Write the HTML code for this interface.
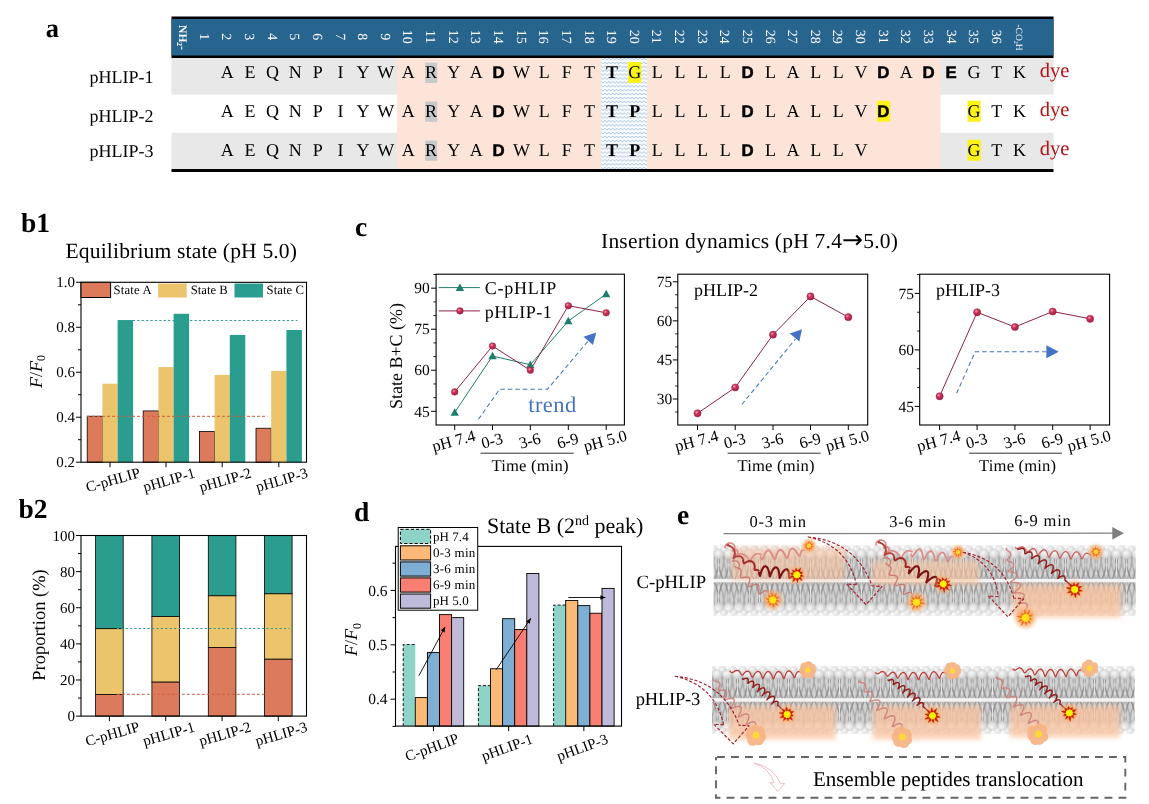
<!DOCTYPE html>
<html lang="en"><head><meta charset="utf-8"><title>pHLIP figure</title>
<style>html,body{margin:0;padding:0;background:#fff}svg{display:block;opacity:.999}text{white-space:pre;text-rendering:geometricPrecision}</style></head><body>
<svg width="1149" height="804" viewBox="0 0 1149 804">
<defs>
<pattern id="wavepat" width="7.8" height="3.9" patternUnits="userSpaceOnUse" x="601" y="57"><rect width="7.8" height="3.9" fill="#f8fbfe"/><path d="M-0.2 1 L1.95 2.9 L3.9 1 L5.85 2.9 L8 1" fill="none" stroke="#7ea8c9" stroke-width="0.65"/></pattern>
<radialGradient id="ballg" cx="0.38" cy="0.35" r="0.7"><stop offset="0" stop-color="#f0a8b8"/><stop offset="0.35" stop-color="#cf3559"/><stop offset="1" stop-color="#9c1c42"/></radialGradient>
<radialGradient id="hg" cx="0.4" cy="0.35" r="0.75"><stop offset="0" stop-color="#f8f8f8"/><stop offset="0.5" stop-color="#dfdfdf"/><stop offset="1" stop-color="#bcbcbc"/></radialGradient>
<radialGradient id="glow" cx="0.5" cy="0.5" r="0.5"><stop offset="0" stop-color="#f79646" stop-opacity="0.95"/><stop offset="0.55" stop-color="#f9a762" stop-opacity="0.75"/><stop offset="1" stop-color="#fbc08a" stop-opacity="0"/></radialGradient>
<radialGradient id="glow2" cx="0.5" cy="0.5" r="0.5"><stop offset="0" stop-color="#ff8a2a" stop-opacity="0.9"/><stop offset="0.6" stop-color="#ffa555" stop-opacity="0.55"/><stop offset="1" stop-color="#ffc090" stop-opacity="0"/></radialGradient>
<filter id="blur2" x="-10%" y="-30%" width="120%" height="160%"><feGaussianBlur stdDeviation="2.8"/></filter>
<pattern id="lipU" width="10.2" height="35" patternUnits="userSpaceOnUse"><rect y="7" width="10.2" height="28" fill="#d1d1d1"/><path d="M-1 8 C-0.5 16 1.5 25 4.4 33.6 M1 8 C0.5 16 -1.5 25 -4.4 33.6 M9.2 8 C9.7 16 11.7 25 14.6 33.6 M11.2 8 C10.7 16 8.7 25 5.8 33.6" fill="none" stroke="#aaaaaa" stroke-width="1.3"/><path d="M4.1 11 C4.4 18 6.2 26 9.2 33.6 M6.1 11 C5.8 18 4 26 1 33.6" fill="none" stroke="#8f8f8f" stroke-width="1.4"/><path d="M5.1 13 C5.1 19 5.1 25 5.1 29" fill="none" stroke="#ececec" stroke-width="0.9"/><circle cx="0" cy="4.6" r="4.7" fill="url(#hg)"/><circle cx="10.2" cy="4.6" r="4.7" fill="url(#hg)"/><circle cx="5.1" cy="8.6" r="4.9" fill="url(#hg)" stroke="#c4c4c4" stroke-width="0.35"/></pattern>
<pattern id="lipL" width="10.2" height="35" patternUnits="userSpaceOnUse"><g transform="translate(0 35) scale(1 -1)"><rect y="7" width="10.2" height="28" fill="#d1d1d1"/><path d="M-1 8 C-0.5 16 1.5 25 4.4 33.6 M1 8 C0.5 16 -1.5 25 -4.4 33.6 M9.2 8 C9.7 16 11.7 25 14.6 33.6 M11.2 8 C10.7 16 8.7 25 5.8 33.6" fill="none" stroke="#aaaaaa" stroke-width="1.3"/><path d="M4.1 11 C4.4 18 6.2 26 9.2 33.6 M6.1 11 C5.8 18 4 26 1 33.6" fill="none" stroke="#8f8f8f" stroke-width="1.4"/><path d="M5.1 13 C5.1 19 5.1 25 5.1 29" fill="none" stroke="#ececec" stroke-width="0.9"/><circle cx="0" cy="4.6" r="4.7" fill="url(#hg)"/><circle cx="10.2" cy="4.6" r="4.7" fill="url(#hg)"/><circle cx="5.1" cy="8.6" r="4.9" fill="url(#hg)" stroke="#c4c4c4" stroke-width="0.35"/></g></pattern>
</defs>
<rect width="1149" height="804" fill="#fff"/>
<g id="panel-a">
<text x="45.8" y="36.8" font-family="'Liberation Serif','DejaVu Serif',serif" font-size="26.5" text-anchor="start" fill="#000" font-weight="bold" font-style="normal" >a</text>
<rect x="171.5" y="57" width="882" height="37.6" fill="#e8e8e8" stroke="none" stroke-width="1" />
<rect x="171.5" y="132.7" width="882" height="36.5" fill="#e8e8e8" stroke="none" stroke-width="1" />
<rect x="397" y="57" width="543.5" height="112.5" fill="#fce4d8" stroke="none" stroke-width="1" />
<rect x="601" y="57" width="46" height="112.5" fill="url(#wavepat)" stroke="none" stroke-width="1" />
<rect x="171.5" y="16.5" width="882" height="41.5" fill="#000" stroke="none" stroke-width="1" />
<rect x="171.5" y="19" width="882" height="36.5" fill="#27648e" stroke="none" stroke-width="1" />
<rect x="171.5" y="169" width="882" height="3" fill="#000" stroke="none" stroke-width="1" />
<text x="0" y="0" transform="translate(199.8 36.8) rotate(90)" font-family="'Liberation Serif','DejaVu Serif',serif" font-size="14" text-anchor="middle" fill="#fff" font-weight="normal" font-style="normal" >1</text>
<text x="0" y="0" transform="translate(222.43 36.8) rotate(90)" font-family="'Liberation Serif','DejaVu Serif',serif" font-size="14" text-anchor="middle" fill="#fff" font-weight="normal" font-style="normal" >2</text>
<text x="0" y="0" transform="translate(245.06 36.8) rotate(90)" font-family="'Liberation Serif','DejaVu Serif',serif" font-size="14" text-anchor="middle" fill="#fff" font-weight="normal" font-style="normal" >3</text>
<text x="0" y="0" transform="translate(267.69 36.8) rotate(90)" font-family="'Liberation Serif','DejaVu Serif',serif" font-size="14" text-anchor="middle" fill="#fff" font-weight="normal" font-style="normal" >4</text>
<text x="0" y="0" transform="translate(290.32 36.8) rotate(90)" font-family="'Liberation Serif','DejaVu Serif',serif" font-size="14" text-anchor="middle" fill="#fff" font-weight="normal" font-style="normal" >5</text>
<text x="0" y="0" transform="translate(312.95 36.8) rotate(90)" font-family="'Liberation Serif','DejaVu Serif',serif" font-size="14" text-anchor="middle" fill="#fff" font-weight="normal" font-style="normal" >6</text>
<text x="0" y="0" transform="translate(335.58 36.8) rotate(90)" font-family="'Liberation Serif','DejaVu Serif',serif" font-size="14" text-anchor="middle" fill="#fff" font-weight="normal" font-style="normal" >7</text>
<text x="0" y="0" transform="translate(358.21 36.8) rotate(90)" font-family="'Liberation Serif','DejaVu Serif',serif" font-size="14" text-anchor="middle" fill="#fff" font-weight="normal" font-style="normal" >8</text>
<text x="0" y="0" transform="translate(380.84 36.8) rotate(90)" font-family="'Liberation Serif','DejaVu Serif',serif" font-size="14" text-anchor="middle" fill="#fff" font-weight="normal" font-style="normal" >9</text>
<text x="0" y="0" transform="translate(403.47 36.8) rotate(90)" font-family="'Liberation Serif','DejaVu Serif',serif" font-size="14" text-anchor="middle" fill="#fff" font-weight="normal" font-style="normal" >10</text>
<text x="0" y="0" transform="translate(426.1 36.8) rotate(90)" font-family="'Liberation Serif','DejaVu Serif',serif" font-size="14" text-anchor="middle" fill="#fff" font-weight="normal" font-style="normal" >11</text>
<text x="0" y="0" transform="translate(448.73 36.8) rotate(90)" font-family="'Liberation Serif','DejaVu Serif',serif" font-size="14" text-anchor="middle" fill="#fff" font-weight="normal" font-style="normal" >12</text>
<text x="0" y="0" transform="translate(471.36 36.8) rotate(90)" font-family="'Liberation Serif','DejaVu Serif',serif" font-size="14" text-anchor="middle" fill="#fff" font-weight="normal" font-style="normal" >13</text>
<text x="0" y="0" transform="translate(493.99 36.8) rotate(90)" font-family="'Liberation Serif','DejaVu Serif',serif" font-size="14" text-anchor="middle" fill="#fff" font-weight="normal" font-style="normal" >14</text>
<text x="0" y="0" transform="translate(516.62 36.8) rotate(90)" font-family="'Liberation Serif','DejaVu Serif',serif" font-size="14" text-anchor="middle" fill="#fff" font-weight="normal" font-style="normal" >15</text>
<text x="0" y="0" transform="translate(539.25 36.8) rotate(90)" font-family="'Liberation Serif','DejaVu Serif',serif" font-size="14" text-anchor="middle" fill="#fff" font-weight="normal" font-style="normal" >16</text>
<text x="0" y="0" transform="translate(561.88 36.8) rotate(90)" font-family="'Liberation Serif','DejaVu Serif',serif" font-size="14" text-anchor="middle" fill="#fff" font-weight="normal" font-style="normal" >17</text>
<text x="0" y="0" transform="translate(584.51 36.8) rotate(90)" font-family="'Liberation Serif','DejaVu Serif',serif" font-size="14" text-anchor="middle" fill="#fff" font-weight="normal" font-style="normal" >18</text>
<text x="0" y="0" transform="translate(607.14 36.8) rotate(90)" font-family="'Liberation Serif','DejaVu Serif',serif" font-size="14" text-anchor="middle" fill="#fff" font-weight="normal" font-style="normal" >19</text>
<text x="0" y="0" transform="translate(629.77 36.8) rotate(90)" font-family="'Liberation Serif','DejaVu Serif',serif" font-size="14" text-anchor="middle" fill="#fff" font-weight="normal" font-style="normal" >20</text>
<text x="0" y="0" transform="translate(652.4 36.8) rotate(90)" font-family="'Liberation Serif','DejaVu Serif',serif" font-size="14" text-anchor="middle" fill="#fff" font-weight="normal" font-style="normal" >21</text>
<text x="0" y="0" transform="translate(675.03 36.8) rotate(90)" font-family="'Liberation Serif','DejaVu Serif',serif" font-size="14" text-anchor="middle" fill="#fff" font-weight="normal" font-style="normal" >22</text>
<text x="0" y="0" transform="translate(697.66 36.8) rotate(90)" font-family="'Liberation Serif','DejaVu Serif',serif" font-size="14" text-anchor="middle" fill="#fff" font-weight="normal" font-style="normal" >23</text>
<text x="0" y="0" transform="translate(720.29 36.8) rotate(90)" font-family="'Liberation Serif','DejaVu Serif',serif" font-size="14" text-anchor="middle" fill="#fff" font-weight="normal" font-style="normal" >24</text>
<text x="0" y="0" transform="translate(742.92 36.8) rotate(90)" font-family="'Liberation Serif','DejaVu Serif',serif" font-size="14" text-anchor="middle" fill="#fff" font-weight="normal" font-style="normal" >25</text>
<text x="0" y="0" transform="translate(765.55 36.8) rotate(90)" font-family="'Liberation Serif','DejaVu Serif',serif" font-size="14" text-anchor="middle" fill="#fff" font-weight="normal" font-style="normal" >26</text>
<text x="0" y="0" transform="translate(788.18 36.8) rotate(90)" font-family="'Liberation Serif','DejaVu Serif',serif" font-size="14" text-anchor="middle" fill="#fff" font-weight="normal" font-style="normal" >27</text>
<text x="0" y="0" transform="translate(810.81 36.8) rotate(90)" font-family="'Liberation Serif','DejaVu Serif',serif" font-size="14" text-anchor="middle" fill="#fff" font-weight="normal" font-style="normal" >28</text>
<text x="0" y="0" transform="translate(833.44 36.8) rotate(90)" font-family="'Liberation Serif','DejaVu Serif',serif" font-size="14" text-anchor="middle" fill="#fff" font-weight="normal" font-style="normal" >29</text>
<text x="0" y="0" transform="translate(856.07 36.8) rotate(90)" font-family="'Liberation Serif','DejaVu Serif',serif" font-size="14" text-anchor="middle" fill="#fff" font-weight="normal" font-style="normal" >30</text>
<text x="0" y="0" transform="translate(878.7 36.8) rotate(90)" font-family="'Liberation Serif','DejaVu Serif',serif" font-size="14" text-anchor="middle" fill="#fff" font-weight="normal" font-style="normal" >31</text>
<text x="0" y="0" transform="translate(901.33 36.8) rotate(90)" font-family="'Liberation Serif','DejaVu Serif',serif" font-size="14" text-anchor="middle" fill="#fff" font-weight="normal" font-style="normal" >32</text>
<text x="0" y="0" transform="translate(923.96 36.8) rotate(90)" font-family="'Liberation Serif','DejaVu Serif',serif" font-size="14" text-anchor="middle" fill="#fff" font-weight="normal" font-style="normal" >33</text>
<text x="0" y="0" transform="translate(946.59 36.8) rotate(90)" font-family="'Liberation Serif','DejaVu Serif',serif" font-size="14" text-anchor="middle" fill="#fff" font-weight="normal" font-style="normal" >34</text>
<text x="0" y="0" transform="translate(969.22 36.8) rotate(90)" font-family="'Liberation Serif','DejaVu Serif',serif" font-size="14" text-anchor="middle" fill="#fff" font-weight="normal" font-style="normal" >35</text>
<text x="0" y="0" transform="translate(991.85 36.8) rotate(90)" font-family="'Liberation Serif','DejaVu Serif',serif" font-size="14" text-anchor="middle" fill="#fff" font-weight="normal" font-style="normal" >36</text>
<text x="0" y="0" transform="translate(178.57 37.5) rotate(90)" font-family="'Liberation Serif','DejaVu Serif',serif" font-size="11.5" text-anchor="middle" fill="#fff" font-weight="bold" font-style="normal" >NH<tspan font-size="7.5" dy="2">2</tspan><tspan dy="-2">-</tspan></text>
<text x="0" y="0" transform="translate(1015.88 37.5) rotate(90)" font-family="'Liberation Serif','DejaVu Serif',serif" font-size="9.5" text-anchor="middle" fill="#fff" font-weight="normal" font-style="normal" >-CO<tspan font-size="6" dy="1.5">2</tspan><tspan dy="-1.5">H</tspan></text>
<text x="89.5" y="83" font-family="'Liberation Serif','DejaVu Serif',serif" font-size="18" text-anchor="start" fill="#000" font-weight="normal" font-style="normal" >pHLIP-1</text>
<text x="89.5" y="121.5" font-family="'Liberation Serif','DejaVu Serif',serif" font-size="18" text-anchor="start" fill="#000" font-weight="normal" font-style="normal" >pHLIP-2</text>
<text x="89.5" y="156.5" font-family="'Liberation Serif','DejaVu Serif',serif" font-size="18" text-anchor="start" fill="#000" font-weight="normal" font-style="normal" >pHLIP-3</text>
<rect x="425.2" y="62.8" width="12" height="20.2" fill="#c9c9c9" stroke="none" stroke-width="1" />
<rect x="628.07" y="61.9" width="13.2" height="21" fill="#fbf315" stroke="none" stroke-width="1" />
<text x="227.33" y="78.2" font-family="'Liberation Serif','DejaVu Serif',serif" font-size="18" text-anchor="middle" fill="#000" font-weight="normal" font-style="normal" >A</text>
<text x="249.96" y="78.2" font-family="'Liberation Serif','DejaVu Serif',serif" font-size="18" text-anchor="middle" fill="#000" font-weight="normal" font-style="normal" >E</text>
<text x="272.59" y="78.2" font-family="'Liberation Serif','DejaVu Serif',serif" font-size="18" text-anchor="middle" fill="#000" font-weight="normal" font-style="normal" >Q</text>
<text x="295.22" y="78.2" font-family="'Liberation Serif','DejaVu Serif',serif" font-size="18" text-anchor="middle" fill="#000" font-weight="normal" font-style="normal" >N</text>
<text x="317.85" y="78.2" font-family="'Liberation Serif','DejaVu Serif',serif" font-size="18" text-anchor="middle" fill="#000" font-weight="normal" font-style="normal" >P</text>
<text x="340.48" y="78.2" font-family="'Liberation Serif','DejaVu Serif',serif" font-size="18" text-anchor="middle" fill="#000" font-weight="normal" font-style="normal" >I</text>
<text x="363.11" y="78.2" font-family="'Liberation Serif','DejaVu Serif',serif" font-size="18" text-anchor="middle" fill="#000" font-weight="normal" font-style="normal" >Y</text>
<text x="385.74" y="78.2" font-family="'Liberation Serif','DejaVu Serif',serif" font-size="18" text-anchor="middle" fill="#000" font-weight="normal" font-style="normal" >W</text>
<text x="408.37" y="78.2" font-family="'Liberation Serif','DejaVu Serif',serif" font-size="18" text-anchor="middle" fill="#000" font-weight="normal" font-style="normal" >A</text>
<text x="431" y="78.2" font-family="'Liberation Serif','DejaVu Serif',serif" font-size="18" text-anchor="middle" fill="#000" font-weight="normal" font-style="normal" >R</text>
<text x="453.63" y="78.2" font-family="'Liberation Serif','DejaVu Serif',serif" font-size="18" text-anchor="middle" fill="#000" font-weight="normal" font-style="normal" >Y</text>
<text x="476.26" y="78.2" font-family="'Liberation Serif','DejaVu Serif',serif" font-size="18" text-anchor="middle" fill="#000" font-weight="normal" font-style="normal" >A</text>
<text x="498.59" y="78.2" font-family="'Liberation Sans','DejaVu Sans',sans-serif" font-size="16.8" text-anchor="middle" fill="#000" font-weight="bold" font-style="normal" stroke="#000" stroke-width="0.5">D</text>
<text x="521.52" y="78.2" font-family="'Liberation Serif','DejaVu Serif',serif" font-size="18" text-anchor="middle" fill="#000" font-weight="normal" font-style="normal" >W</text>
<text x="544.15" y="78.2" font-family="'Liberation Serif','DejaVu Serif',serif" font-size="18" text-anchor="middle" fill="#000" font-weight="normal" font-style="normal" >L</text>
<text x="566.78" y="78.2" font-family="'Liberation Serif','DejaVu Serif',serif" font-size="18" text-anchor="middle" fill="#000" font-weight="normal" font-style="normal" >F</text>
<text x="589.41" y="78.2" font-family="'Liberation Serif','DejaVu Serif',serif" font-size="18" text-anchor="middle" fill="#000" font-weight="normal" font-style="normal" >T</text>
<text x="612.04" y="78.2" font-family="'Liberation Serif','DejaVu Serif',serif" font-size="18" text-anchor="middle" fill="#000" font-weight="bold" font-style="normal" >T</text>
<text x="634.67" y="78.2" font-family="'Liberation Serif','DejaVu Serif',serif" font-size="18" text-anchor="middle" fill="#000" font-weight="normal" font-style="normal" >G</text>
<text x="657.3" y="78.2" font-family="'Liberation Serif','DejaVu Serif',serif" font-size="18" text-anchor="middle" fill="#000" font-weight="normal" font-style="normal" >L</text>
<text x="679.93" y="78.2" font-family="'Liberation Serif','DejaVu Serif',serif" font-size="18" text-anchor="middle" fill="#000" font-weight="normal" font-style="normal" >L</text>
<text x="702.56" y="78.2" font-family="'Liberation Serif','DejaVu Serif',serif" font-size="18" text-anchor="middle" fill="#000" font-weight="normal" font-style="normal" >L</text>
<text x="725.19" y="78.2" font-family="'Liberation Serif','DejaVu Serif',serif" font-size="18" text-anchor="middle" fill="#000" font-weight="normal" font-style="normal" >L</text>
<text x="747.52" y="78.2" font-family="'Liberation Sans','DejaVu Sans',sans-serif" font-size="16.8" text-anchor="middle" fill="#000" font-weight="bold" font-style="normal" stroke="#000" stroke-width="0.5">D</text>
<text x="770.45" y="78.2" font-family="'Liberation Serif','DejaVu Serif',serif" font-size="18" text-anchor="middle" fill="#000" font-weight="normal" font-style="normal" >L</text>
<text x="793.08" y="78.2" font-family="'Liberation Serif','DejaVu Serif',serif" font-size="18" text-anchor="middle" fill="#000" font-weight="normal" font-style="normal" >A</text>
<text x="815.71" y="78.2" font-family="'Liberation Serif','DejaVu Serif',serif" font-size="18" text-anchor="middle" fill="#000" font-weight="normal" font-style="normal" >L</text>
<text x="838.34" y="78.2" font-family="'Liberation Serif','DejaVu Serif',serif" font-size="18" text-anchor="middle" fill="#000" font-weight="normal" font-style="normal" >L</text>
<text x="860.97" y="78.2" font-family="'Liberation Serif','DejaVu Serif',serif" font-size="18" text-anchor="middle" fill="#000" font-weight="normal" font-style="normal" >V</text>
<text x="883.3" y="78.2" font-family="'Liberation Sans','DejaVu Sans',sans-serif" font-size="16.8" text-anchor="middle" fill="#000" font-weight="bold" font-style="normal" stroke="#000" stroke-width="0.5">D</text>
<text x="906.23" y="78.2" font-family="'Liberation Serif','DejaVu Serif',serif" font-size="18" text-anchor="middle" fill="#000" font-weight="normal" font-style="normal" >A</text>
<text x="928.56" y="78.2" font-family="'Liberation Sans','DejaVu Sans',sans-serif" font-size="16.8" text-anchor="middle" fill="#000" font-weight="bold" font-style="normal" stroke="#000" stroke-width="0.5">D</text>
<text x="951.19" y="78.2" font-family="'Liberation Sans','DejaVu Sans',sans-serif" font-size="16.8" text-anchor="middle" fill="#000" font-weight="bold" font-style="normal" stroke="#000" stroke-width="0.5">E</text>
<text x="974.12" y="78.2" font-family="'Liberation Serif','DejaVu Serif',serif" font-size="18" text-anchor="middle" fill="#000" font-weight="normal" font-style="normal" >G</text>
<text x="996.75" y="78.2" font-family="'Liberation Serif','DejaVu Serif',serif" font-size="18" text-anchor="middle" fill="#000" font-weight="normal" font-style="normal" >T</text>
<text x="1019.38" y="78.2" font-family="'Liberation Serif','DejaVu Serif',serif" font-size="18" text-anchor="middle" fill="#000" font-weight="normal" font-style="normal" >K</text>
<text x="1039.8" y="77.3" font-family="'Liberation Serif','DejaVu Serif',serif" font-size="20.5" text-anchor="start" fill="#b31212" font-weight="normal" font-style="normal" >dye</text>
<rect x="425.2" y="101.6" width="12" height="20.2" fill="#c9c9c9" stroke="none" stroke-width="1" />
<rect x="877" y="100.7" width="13.2" height="21" fill="#fbf315" stroke="none" stroke-width="1" />
<rect x="967.52" y="100.7" width="13.2" height="21" fill="#fbf315" stroke="none" stroke-width="1" />
<text x="227.33" y="117" font-family="'Liberation Serif','DejaVu Serif',serif" font-size="18" text-anchor="middle" fill="#000" font-weight="normal" font-style="normal" >A</text>
<text x="249.96" y="117" font-family="'Liberation Serif','DejaVu Serif',serif" font-size="18" text-anchor="middle" fill="#000" font-weight="normal" font-style="normal" >E</text>
<text x="272.59" y="117" font-family="'Liberation Serif','DejaVu Serif',serif" font-size="18" text-anchor="middle" fill="#000" font-weight="normal" font-style="normal" >Q</text>
<text x="295.22" y="117" font-family="'Liberation Serif','DejaVu Serif',serif" font-size="18" text-anchor="middle" fill="#000" font-weight="normal" font-style="normal" >N</text>
<text x="317.85" y="117" font-family="'Liberation Serif','DejaVu Serif',serif" font-size="18" text-anchor="middle" fill="#000" font-weight="normal" font-style="normal" >P</text>
<text x="340.48" y="117" font-family="'Liberation Serif','DejaVu Serif',serif" font-size="18" text-anchor="middle" fill="#000" font-weight="normal" font-style="normal" >I</text>
<text x="363.11" y="117" font-family="'Liberation Serif','DejaVu Serif',serif" font-size="18" text-anchor="middle" fill="#000" font-weight="normal" font-style="normal" >Y</text>
<text x="385.74" y="117" font-family="'Liberation Serif','DejaVu Serif',serif" font-size="18" text-anchor="middle" fill="#000" font-weight="normal" font-style="normal" >W</text>
<text x="408.37" y="117" font-family="'Liberation Serif','DejaVu Serif',serif" font-size="18" text-anchor="middle" fill="#000" font-weight="normal" font-style="normal" >A</text>
<text x="431" y="117" font-family="'Liberation Serif','DejaVu Serif',serif" font-size="18" text-anchor="middle" fill="#000" font-weight="normal" font-style="normal" >R</text>
<text x="453.63" y="117" font-family="'Liberation Serif','DejaVu Serif',serif" font-size="18" text-anchor="middle" fill="#000" font-weight="normal" font-style="normal" >Y</text>
<text x="476.26" y="117" font-family="'Liberation Serif','DejaVu Serif',serif" font-size="18" text-anchor="middle" fill="#000" font-weight="normal" font-style="normal" >A</text>
<text x="498.59" y="117" font-family="'Liberation Sans','DejaVu Sans',sans-serif" font-size="16.8" text-anchor="middle" fill="#000" font-weight="bold" font-style="normal" stroke="#000" stroke-width="0.5">D</text>
<text x="521.52" y="117" font-family="'Liberation Serif','DejaVu Serif',serif" font-size="18" text-anchor="middle" fill="#000" font-weight="normal" font-style="normal" >W</text>
<text x="544.15" y="117" font-family="'Liberation Serif','DejaVu Serif',serif" font-size="18" text-anchor="middle" fill="#000" font-weight="normal" font-style="normal" >L</text>
<text x="566.78" y="117" font-family="'Liberation Serif','DejaVu Serif',serif" font-size="18" text-anchor="middle" fill="#000" font-weight="normal" font-style="normal" >F</text>
<text x="589.41" y="117" font-family="'Liberation Serif','DejaVu Serif',serif" font-size="18" text-anchor="middle" fill="#000" font-weight="normal" font-style="normal" >T</text>
<text x="612.04" y="117" font-family="'Liberation Serif','DejaVu Serif',serif" font-size="18" text-anchor="middle" fill="#000" font-weight="bold" font-style="normal" >T</text>
<text x="634.67" y="117" font-family="'Liberation Serif','DejaVu Serif',serif" font-size="18" text-anchor="middle" fill="#000" font-weight="bold" font-style="normal" >P</text>
<text x="657.3" y="117" font-family="'Liberation Serif','DejaVu Serif',serif" font-size="18" text-anchor="middle" fill="#000" font-weight="normal" font-style="normal" >L</text>
<text x="679.93" y="117" font-family="'Liberation Serif','DejaVu Serif',serif" font-size="18" text-anchor="middle" fill="#000" font-weight="normal" font-style="normal" >L</text>
<text x="702.56" y="117" font-family="'Liberation Serif','DejaVu Serif',serif" font-size="18" text-anchor="middle" fill="#000" font-weight="normal" font-style="normal" >L</text>
<text x="725.19" y="117" font-family="'Liberation Serif','DejaVu Serif',serif" font-size="18" text-anchor="middle" fill="#000" font-weight="normal" font-style="normal" >L</text>
<text x="747.52" y="117" font-family="'Liberation Sans','DejaVu Sans',sans-serif" font-size="16.8" text-anchor="middle" fill="#000" font-weight="bold" font-style="normal" stroke="#000" stroke-width="0.5">D</text>
<text x="770.45" y="117" font-family="'Liberation Serif','DejaVu Serif',serif" font-size="18" text-anchor="middle" fill="#000" font-weight="normal" font-style="normal" >L</text>
<text x="793.08" y="117" font-family="'Liberation Serif','DejaVu Serif',serif" font-size="18" text-anchor="middle" fill="#000" font-weight="normal" font-style="normal" >A</text>
<text x="815.71" y="117" font-family="'Liberation Serif','DejaVu Serif',serif" font-size="18" text-anchor="middle" fill="#000" font-weight="normal" font-style="normal" >L</text>
<text x="838.34" y="117" font-family="'Liberation Serif','DejaVu Serif',serif" font-size="18" text-anchor="middle" fill="#000" font-weight="normal" font-style="normal" >L</text>
<text x="860.97" y="117" font-family="'Liberation Serif','DejaVu Serif',serif" font-size="18" text-anchor="middle" fill="#000" font-weight="normal" font-style="normal" >V</text>
<text x="883.3" y="117" font-family="'Liberation Sans','DejaVu Sans',sans-serif" font-size="16.8" text-anchor="middle" fill="#000" font-weight="bold" font-style="normal" stroke="#000" stroke-width="0.5">D</text>
<text x="974.12" y="117" font-family="'Liberation Serif','DejaVu Serif',serif" font-size="18" text-anchor="middle" fill="#000" font-weight="normal" font-style="normal" >G</text>
<text x="996.75" y="117" font-family="'Liberation Serif','DejaVu Serif',serif" font-size="18" text-anchor="middle" fill="#000" font-weight="normal" font-style="normal" >T</text>
<text x="1019.38" y="117" font-family="'Liberation Serif','DejaVu Serif',serif" font-size="18" text-anchor="middle" fill="#000" font-weight="normal" font-style="normal" >K</text>
<text x="1039.8" y="116.1" font-family="'Liberation Serif','DejaVu Serif',serif" font-size="20.5" text-anchor="start" fill="#b31212" font-weight="normal" font-style="normal" >dye</text>
<rect x="425.2" y="140.6" width="12" height="20.2" fill="#c9c9c9" stroke="none" stroke-width="1" />
<rect x="967.52" y="139.7" width="13.2" height="21" fill="#fbf315" stroke="none" stroke-width="1" />
<text x="227.33" y="156" font-family="'Liberation Serif','DejaVu Serif',serif" font-size="18" text-anchor="middle" fill="#000" font-weight="normal" font-style="normal" >A</text>
<text x="249.96" y="156" font-family="'Liberation Serif','DejaVu Serif',serif" font-size="18" text-anchor="middle" fill="#000" font-weight="normal" font-style="normal" >E</text>
<text x="272.59" y="156" font-family="'Liberation Serif','DejaVu Serif',serif" font-size="18" text-anchor="middle" fill="#000" font-weight="normal" font-style="normal" >Q</text>
<text x="295.22" y="156" font-family="'Liberation Serif','DejaVu Serif',serif" font-size="18" text-anchor="middle" fill="#000" font-weight="normal" font-style="normal" >N</text>
<text x="317.85" y="156" font-family="'Liberation Serif','DejaVu Serif',serif" font-size="18" text-anchor="middle" fill="#000" font-weight="normal" font-style="normal" >P</text>
<text x="340.48" y="156" font-family="'Liberation Serif','DejaVu Serif',serif" font-size="18" text-anchor="middle" fill="#000" font-weight="normal" font-style="normal" >I</text>
<text x="363.11" y="156" font-family="'Liberation Serif','DejaVu Serif',serif" font-size="18" text-anchor="middle" fill="#000" font-weight="normal" font-style="normal" >Y</text>
<text x="385.74" y="156" font-family="'Liberation Serif','DejaVu Serif',serif" font-size="18" text-anchor="middle" fill="#000" font-weight="normal" font-style="normal" >W</text>
<text x="408.37" y="156" font-family="'Liberation Serif','DejaVu Serif',serif" font-size="18" text-anchor="middle" fill="#000" font-weight="normal" font-style="normal" >A</text>
<text x="431" y="156" font-family="'Liberation Serif','DejaVu Serif',serif" font-size="18" text-anchor="middle" fill="#000" font-weight="normal" font-style="normal" >R</text>
<text x="453.63" y="156" font-family="'Liberation Serif','DejaVu Serif',serif" font-size="18" text-anchor="middle" fill="#000" font-weight="normal" font-style="normal" >Y</text>
<text x="476.26" y="156" font-family="'Liberation Serif','DejaVu Serif',serif" font-size="18" text-anchor="middle" fill="#000" font-weight="normal" font-style="normal" >A</text>
<text x="498.59" y="156" font-family="'Liberation Sans','DejaVu Sans',sans-serif" font-size="16.8" text-anchor="middle" fill="#000" font-weight="bold" font-style="normal" stroke="#000" stroke-width="0.5">D</text>
<text x="521.52" y="156" font-family="'Liberation Serif','DejaVu Serif',serif" font-size="18" text-anchor="middle" fill="#000" font-weight="normal" font-style="normal" >W</text>
<text x="544.15" y="156" font-family="'Liberation Serif','DejaVu Serif',serif" font-size="18" text-anchor="middle" fill="#000" font-weight="normal" font-style="normal" >L</text>
<text x="566.78" y="156" font-family="'Liberation Serif','DejaVu Serif',serif" font-size="18" text-anchor="middle" fill="#000" font-weight="normal" font-style="normal" >F</text>
<text x="589.41" y="156" font-family="'Liberation Serif','DejaVu Serif',serif" font-size="18" text-anchor="middle" fill="#000" font-weight="normal" font-style="normal" >T</text>
<text x="612.04" y="156" font-family="'Liberation Serif','DejaVu Serif',serif" font-size="18" text-anchor="middle" fill="#000" font-weight="bold" font-style="normal" >T</text>
<text x="634.67" y="156" font-family="'Liberation Serif','DejaVu Serif',serif" font-size="18" text-anchor="middle" fill="#000" font-weight="bold" font-style="normal" >P</text>
<text x="657.3" y="156" font-family="'Liberation Serif','DejaVu Serif',serif" font-size="18" text-anchor="middle" fill="#000" font-weight="normal" font-style="normal" >L</text>
<text x="679.93" y="156" font-family="'Liberation Serif','DejaVu Serif',serif" font-size="18" text-anchor="middle" fill="#000" font-weight="normal" font-style="normal" >L</text>
<text x="702.56" y="156" font-family="'Liberation Serif','DejaVu Serif',serif" font-size="18" text-anchor="middle" fill="#000" font-weight="normal" font-style="normal" >L</text>
<text x="725.19" y="156" font-family="'Liberation Serif','DejaVu Serif',serif" font-size="18" text-anchor="middle" fill="#000" font-weight="normal" font-style="normal" >L</text>
<text x="747.52" y="156" font-family="'Liberation Sans','DejaVu Sans',sans-serif" font-size="16.8" text-anchor="middle" fill="#000" font-weight="bold" font-style="normal" stroke="#000" stroke-width="0.5">D</text>
<text x="770.45" y="156" font-family="'Liberation Serif','DejaVu Serif',serif" font-size="18" text-anchor="middle" fill="#000" font-weight="normal" font-style="normal" >L</text>
<text x="793.08" y="156" font-family="'Liberation Serif','DejaVu Serif',serif" font-size="18" text-anchor="middle" fill="#000" font-weight="normal" font-style="normal" >A</text>
<text x="815.71" y="156" font-family="'Liberation Serif','DejaVu Serif',serif" font-size="18" text-anchor="middle" fill="#000" font-weight="normal" font-style="normal" >L</text>
<text x="838.34" y="156" font-family="'Liberation Serif','DejaVu Serif',serif" font-size="18" text-anchor="middle" fill="#000" font-weight="normal" font-style="normal" >L</text>
<text x="860.97" y="156" font-family="'Liberation Serif','DejaVu Serif',serif" font-size="18" text-anchor="middle" fill="#000" font-weight="normal" font-style="normal" >V</text>
<text x="974.12" y="156" font-family="'Liberation Serif','DejaVu Serif',serif" font-size="18" text-anchor="middle" fill="#000" font-weight="normal" font-style="normal" >G</text>
<text x="996.75" y="156" font-family="'Liberation Serif','DejaVu Serif',serif" font-size="18" text-anchor="middle" fill="#000" font-weight="normal" font-style="normal" >T</text>
<text x="1019.38" y="156" font-family="'Liberation Serif','DejaVu Serif',serif" font-size="18" text-anchor="middle" fill="#000" font-weight="normal" font-style="normal" >K</text>
<text x="1039.8" y="155.1" font-family="'Liberation Serif','DejaVu Serif',serif" font-size="20.5" text-anchor="start" fill="#b31212" font-weight="normal" font-style="normal" >dye</text>
</g>
<g id="panel-b">
<text x="21" y="232" font-family="'Liberation Serif','DejaVu Serif',serif" font-size="27.5" text-anchor="start" fill="#000" font-weight="bold" font-style="normal" >b1</text>
<text x="65.5" y="257.8" font-family="'Liberation Serif','DejaVu Serif',serif" font-size="21.6" text-anchor="start" fill="#000" font-weight="normal" font-style="normal"  textLength="231.5" lengthAdjust="spacing">Equilibrium state (pH 5.0)</text>
<rect x="87.2" y="416.21" width="15.2" height="45.99" fill="#dc7a5c" stroke="#000" stroke-width="0.8" />
<rect x="102.4" y="383.71" width="15.2" height="78.49" fill="#ecc46c" stroke="none" stroke-width="1" />
<rect x="117.6" y="320.06" width="15.5" height="142.14" fill="#2b9d8f" stroke="none" stroke-width="1" />
<rect x="143.2" y="410.92" width="15.2" height="51.28" fill="#dc7a5c" stroke="#000" stroke-width="0.8" />
<rect x="158.4" y="367.07" width="15.2" height="95.13" fill="#ecc46c" stroke="none" stroke-width="1" />
<rect x="173.6" y="313.77" width="15.5" height="148.43" fill="#2b9d8f" stroke="none" stroke-width="1" />
<rect x="199.4" y="431.39" width="15.2" height="30.81" fill="#dc7a5c" stroke="#000" stroke-width="0.8" />
<rect x="214.6" y="374.94" width="15.2" height="87.26" fill="#ecc46c" stroke="none" stroke-width="1" />
<rect x="229.8" y="334.91" width="15.5" height="127.29" fill="#2b9d8f" stroke="none" stroke-width="1" />
<rect x="256" y="428.24" width="15.2" height="33.96" fill="#dc7a5c" stroke="#000" stroke-width="0.8" />
<rect x="271.2" y="370.89" width="15.2" height="91.31" fill="#ecc46c" stroke="none" stroke-width="1" />
<rect x="286.4" y="329.96" width="15.5" height="132.24" fill="#2b9d8f" stroke="none" stroke-width="1" />
<line x1="132.9" y1="320.5" x2="297.4" y2="320.5" stroke="#2b9d8f" stroke-width="1" stroke-dasharray="2.2 2.2"/>
<line x1="87" y1="416.3" x2="267.4" y2="416.3" stroke="#c8623e" stroke-width="1" stroke-dasharray="3 2"/>
<rect x="81" y="282.3" width="225.5" height="179.9" fill="none" stroke="#000" stroke-width="1.1" />
<line x1="76" y1="462.2" x2="81" y2="462.2" stroke="#000" stroke-width="1" />
<text x="75" y="467.2" font-family="'Liberation Serif','DejaVu Serif',serif" font-size="15" text-anchor="end" fill="#000" font-weight="normal" font-style="normal" >0.2</text>
<line x1="76" y1="417.22" x2="81" y2="417.22" stroke="#000" stroke-width="1" />
<text x="75" y="422.22" font-family="'Liberation Serif','DejaVu Serif',serif" font-size="15" text-anchor="end" fill="#000" font-weight="normal" font-style="normal" >0.4</text>
<line x1="76" y1="372.24" x2="81" y2="372.24" stroke="#000" stroke-width="1" />
<text x="75" y="377.24" font-family="'Liberation Serif','DejaVu Serif',serif" font-size="15" text-anchor="end" fill="#000" font-weight="normal" font-style="normal" >0.6</text>
<line x1="76" y1="327.26" x2="81" y2="327.26" stroke="#000" stroke-width="1" />
<text x="75" y="332.26" font-family="'Liberation Serif','DejaVu Serif',serif" font-size="15" text-anchor="end" fill="#000" font-weight="normal" font-style="normal" >0.8</text>
<line x1="76" y1="282.28" x2="81" y2="282.28" stroke="#000" stroke-width="1" />
<text x="75" y="287.28" font-family="'Liberation Serif','DejaVu Serif',serif" font-size="15" text-anchor="end" fill="#000" font-weight="normal" font-style="normal" >1.0</text>
<line x1="78" y1="439.71" x2="81" y2="439.71" stroke="#000" stroke-width="1" />
<line x1="78" y1="394.73" x2="81" y2="394.73" stroke="#000" stroke-width="1" />
<line x1="78" y1="349.75" x2="81" y2="349.75" stroke="#000" stroke-width="1" />
<line x1="78" y1="304.77" x2="81" y2="304.77" stroke="#000" stroke-width="1" />
<line x1="110" y1="462.2" x2="110" y2="467.2" stroke="#000" stroke-width="1" />
<line x1="166" y1="462.2" x2="166" y2="467.2" stroke="#000" stroke-width="1" />
<line x1="222.2" y1="462.2" x2="222.2" y2="467.2" stroke="#000" stroke-width="1" />
<line x1="278.8" y1="462.2" x2="278.8" y2="467.2" stroke="#000" stroke-width="1" />
<text transform="translate(113 480) rotate(-16)" x="0" y="0" dy="0.32em" font-family="'Liberation Serif','DejaVu Serif',serif" font-size="15" text-anchor="middle" fill="#000">C-pHLIP</text>
<text transform="translate(169 480) rotate(-16)" x="0" y="0" dy="0.32em" font-family="'Liberation Serif','DejaVu Serif',serif" font-size="15" text-anchor="middle" fill="#000">pHLIP-1</text>
<text transform="translate(225.2 480) rotate(-16)" x="0" y="0" dy="0.32em" font-family="'Liberation Serif','DejaVu Serif',serif" font-size="15" text-anchor="middle" fill="#000">pHLIP-2</text>
<text transform="translate(281.8 480) rotate(-16)" x="0" y="0" dy="0.32em" font-family="'Liberation Serif','DejaVu Serif',serif" font-size="15" text-anchor="middle" fill="#000">pHLIP-3</text>
<text transform="translate(41.8 371.5) rotate(-90)" font-family="'Liberation Serif','DejaVu Serif',serif" font-size="18" text-anchor="middle" font-style="italic">F<tspan font-style="normal">/</tspan>F<tspan font-size="12" dy="3.5" font-style="normal">0</tspan></text>
<rect x="81" y="282.3" width="29.6" height="15.2" fill="#dc7a5c" stroke="#000" stroke-width="1" />
<text x="113.6" y="293.8" font-family="'Liberation Serif','DejaVu Serif',serif" font-size="12.7" text-anchor="start" fill="#000" font-weight="normal" font-style="normal"  textLength="38" lengthAdjust="spacing">State A</text>
<rect x="158.1" y="283.5" width="28.6" height="14" fill="#ecc46c" stroke="none" stroke-width="1" />
<text x="190.7" y="293.8" font-family="'Liberation Serif','DejaVu Serif',serif" font-size="12.7" text-anchor="start" fill="#000" font-weight="normal" font-style="normal"  textLength="37" lengthAdjust="spacing">State B</text>
<rect x="234.5" y="283.5" width="28.5" height="14" fill="#2b9d8f" stroke="none" stroke-width="1" />
<text x="266.5" y="293.8" font-family="'Liberation Serif','DejaVu Serif',serif" font-size="12.7" text-anchor="start" fill="#000" font-weight="normal" font-style="normal"  textLength="37.5" lengthAdjust="spacing">State C</text>
<text x="18.5" y="517.5" font-family="'Liberation Serif','DejaVu Serif',serif" font-size="27.5" text-anchor="start" fill="#000" font-weight="bold" font-style="normal" >b2</text>
<rect x="95.6" y="535.5" width="27.6" height="93.19" fill="#2b9d8f" stroke="#000" stroke-width="0.8" />
<rect x="95.6" y="628.69" width="27.6" height="65.74" fill="#ecc46c" stroke="#000" stroke-width="0.8" />
<rect x="95.6" y="694.43" width="27.6" height="21.67" fill="#dc7a5c" stroke="#000" stroke-width="0.8" />
<rect x="151.9" y="535.5" width="27.6" height="81.09" fill="#2b9d8f" stroke="#000" stroke-width="0.8" />
<rect x="151.9" y="616.59" width="27.6" height="65.56" fill="#ecc46c" stroke="#000" stroke-width="0.8" />
<rect x="151.9" y="682.15" width="27.6" height="33.95" fill="#dc7a5c" stroke="#000" stroke-width="0.8" />
<rect x="208.3" y="535.5" width="27.6" height="60.32" fill="#2b9d8f" stroke="#000" stroke-width="0.8" />
<rect x="208.3" y="595.82" width="27.6" height="51.65" fill="#ecc46c" stroke="#000" stroke-width="0.8" />
<rect x="208.3" y="647.47" width="27.6" height="68.63" fill="#dc7a5c" stroke="#000" stroke-width="0.8" />
<rect x="264.5" y="535.5" width="27.6" height="58.33" fill="#2b9d8f" stroke="#000" stroke-width="0.8" />
<rect x="264.5" y="593.83" width="27.6" height="65.38" fill="#ecc46c" stroke="#000" stroke-width="0.8" />
<rect x="264.5" y="659.21" width="27.6" height="56.89" fill="#dc7a5c" stroke="#000" stroke-width="0.8" />
<line x1="116.8" y1="628.5" x2="289.4" y2="628.5" stroke="#2b9d8f" stroke-width="1" stroke-dasharray="2.2 2.2"/>
<line x1="116.8" y1="694.3" x2="264.5" y2="694.3" stroke="#c8623e" stroke-width="1" stroke-dasharray="3 2"/>
<rect x="81" y="535.5" width="225.5" height="180.6" fill="none" stroke="#000" stroke-width="1.1" />
<line x1="76" y1="716.1" x2="81" y2="716.1" stroke="#000" stroke-width="1" />
<text x="75" y="721.1" font-family="'Liberation Serif','DejaVu Serif',serif" font-size="15" text-anchor="end" fill="#000" font-weight="normal" font-style="normal" >0</text>
<line x1="76" y1="679.98" x2="81" y2="679.98" stroke="#000" stroke-width="1" />
<text x="75" y="684.98" font-family="'Liberation Serif','DejaVu Serif',serif" font-size="15" text-anchor="end" fill="#000" font-weight="normal" font-style="normal" >20</text>
<line x1="76" y1="643.86" x2="81" y2="643.86" stroke="#000" stroke-width="1" />
<text x="75" y="648.86" font-family="'Liberation Serif','DejaVu Serif',serif" font-size="15" text-anchor="end" fill="#000" font-weight="normal" font-style="normal" >40</text>
<line x1="76" y1="607.74" x2="81" y2="607.74" stroke="#000" stroke-width="1" />
<text x="75" y="612.74" font-family="'Liberation Serif','DejaVu Serif',serif" font-size="15" text-anchor="end" fill="#000" font-weight="normal" font-style="normal" >60</text>
<line x1="76" y1="571.62" x2="81" y2="571.62" stroke="#000" stroke-width="1" />
<text x="75" y="576.62" font-family="'Liberation Serif','DejaVu Serif',serif" font-size="15" text-anchor="end" fill="#000" font-weight="normal" font-style="normal" >80</text>
<line x1="76" y1="535.5" x2="81" y2="535.5" stroke="#000" stroke-width="1" />
<text x="75" y="540.5" font-family="'Liberation Serif','DejaVu Serif',serif" font-size="15" text-anchor="end" fill="#000" font-weight="normal" font-style="normal" >100</text>
<line x1="78" y1="698.04" x2="81" y2="698.04" stroke="#000" stroke-width="1" />
<line x1="78" y1="661.92" x2="81" y2="661.92" stroke="#000" stroke-width="1" />
<line x1="78" y1="625.8" x2="81" y2="625.8" stroke="#000" stroke-width="1" />
<line x1="78" y1="589.68" x2="81" y2="589.68" stroke="#000" stroke-width="1" />
<line x1="78" y1="553.56" x2="81" y2="553.56" stroke="#000" stroke-width="1" />
<line x1="109.4" y1="716.1" x2="109.4" y2="721.1" stroke="#000" stroke-width="1" />
<line x1="165.7" y1="716.1" x2="165.7" y2="721.1" stroke="#000" stroke-width="1" />
<line x1="222.1" y1="716.1" x2="222.1" y2="721.1" stroke="#000" stroke-width="1" />
<line x1="278.3" y1="716.1" x2="278.3" y2="721.1" stroke="#000" stroke-width="1" />
<text transform="translate(112.4 734) rotate(-16)" x="0" y="0" dy="0.32em" font-family="'Liberation Serif','DejaVu Serif',serif" font-size="15" text-anchor="middle" fill="#000">C-pHLIP</text>
<text transform="translate(168.7 734) rotate(-16)" x="0" y="0" dy="0.32em" font-family="'Liberation Serif','DejaVu Serif',serif" font-size="15" text-anchor="middle" fill="#000">pHLIP-1</text>
<text transform="translate(225.1 734) rotate(-16)" x="0" y="0" dy="0.32em" font-family="'Liberation Serif','DejaVu Serif',serif" font-size="15" text-anchor="middle" fill="#000">pHLIP-2</text>
<text transform="translate(281.3 734) rotate(-16)" x="0" y="0" dy="0.32em" font-family="'Liberation Serif','DejaVu Serif',serif" font-size="15" text-anchor="middle" fill="#000">pHLIP-3</text>
<text transform="translate(45 625) rotate(-90)" font-family="'Liberation Serif','DejaVu Serif',serif" font-size="18.5" text-anchor="middle">Proportion (%)</text>
</g>
<g id="panel-c">
<text x="355" y="236" font-family="'Liberation Serif','DejaVu Serif',serif" font-size="27.5" text-anchor="start" fill="#000" font-weight="bold" font-style="normal" >c</text>
<text x="601" y="248" font-family="'Liberation Serif','DejaVu Serif',serif" font-size="21.5" text-anchor="start" fill="#000" font-weight="normal" font-style="normal"  textLength="297" lengthAdjust="spacing">Insertion dynamics (pH 7.4<tspan font-family="'DejaVu Sans',sans-serif" font-size="25">→</tspan>5.0)</text>
<rect x="436.1" y="274.2" width="188.3" height="150.8" fill="none" stroke="#000" stroke-width="1.1" />
<line x1="431.1" y1="288.18" x2="436.1" y2="288.18" stroke="#000" stroke-width="1" />
<text x="429.7" y="293.38" font-family="'Liberation Serif','DejaVu Serif',serif" font-size="15.5" text-anchor="end" fill="#000" font-weight="normal" font-style="normal" >90</text>
<line x1="431.1" y1="329.22" x2="436.1" y2="329.22" stroke="#000" stroke-width="1" />
<text x="429.7" y="334.42" font-family="'Liberation Serif','DejaVu Serif',serif" font-size="15.5" text-anchor="end" fill="#000" font-weight="normal" font-style="normal" >75</text>
<line x1="431.1" y1="370.26" x2="436.1" y2="370.26" stroke="#000" stroke-width="1" />
<text x="429.7" y="375.46" font-family="'Liberation Serif','DejaVu Serif',serif" font-size="15.5" text-anchor="end" fill="#000" font-weight="normal" font-style="normal" >60</text>
<line x1="431.1" y1="411.3" x2="436.1" y2="411.3" stroke="#000" stroke-width="1" />
<text x="429.7" y="416.5" font-family="'Liberation Serif','DejaVu Serif',serif" font-size="15.5" text-anchor="end" fill="#000" font-weight="normal" font-style="normal" >45</text>
<line x1="433.5" y1="397.62" x2="436.1" y2="397.62" stroke="#000" stroke-width="0.9" />
<line x1="433.5" y1="383.94" x2="436.1" y2="383.94" stroke="#000" stroke-width="0.9" />
<line x1="433.5" y1="356.58" x2="436.1" y2="356.58" stroke="#000" stroke-width="0.9" />
<line x1="433.5" y1="342.9" x2="436.1" y2="342.9" stroke="#000" stroke-width="0.9" />
<line x1="433.5" y1="315.54" x2="436.1" y2="315.54" stroke="#000" stroke-width="0.9" />
<line x1="433.5" y1="301.86" x2="436.1" y2="301.86" stroke="#000" stroke-width="0.9" />
<line x1="433.5" y1="274.5" x2="436.1" y2="274.5" stroke="#000" stroke-width="0.9" />
<line x1="454.7" y1="425" x2="454.7" y2="430" stroke="#000" stroke-width="1" />
<line x1="492.5" y1="425" x2="492.5" y2="430" stroke="#000" stroke-width="1" />
<line x1="530.3" y1="425" x2="530.3" y2="430" stroke="#000" stroke-width="1" />
<line x1="568.3" y1="425" x2="568.3" y2="430" stroke="#000" stroke-width="1" />
<line x1="606.2" y1="425" x2="606.2" y2="430" stroke="#000" stroke-width="1" />
<text transform="translate(453.7 441) rotate(-15)" x="0" y="0" dy="0.32em" font-family="'Liberation Serif','DejaVu Serif',serif" font-size="16.3" text-anchor="middle" fill="#000">pH 7.4</text>
<text transform="translate(492 441) rotate(-15)" x="0" y="0" dy="0.32em" font-family="'Liberation Serif','DejaVu Serif',serif" font-size="16.3" text-anchor="middle" fill="#000">0-3</text>
<text transform="translate(529.8 441) rotate(-15)" x="0" y="0" dy="0.32em" font-family="'Liberation Serif','DejaVu Serif',serif" font-size="16.3" text-anchor="middle" fill="#000">3-6</text>
<text transform="translate(567.8 441) rotate(-15)" x="0" y="0" dy="0.32em" font-family="'Liberation Serif','DejaVu Serif',serif" font-size="16.3" text-anchor="middle" fill="#000">6-9</text>
<text transform="translate(605.2 441) rotate(-15)" x="0" y="0" dy="0.32em" font-family="'Liberation Serif','DejaVu Serif',serif" font-size="16.3" text-anchor="middle" fill="#000">pH 5.0</text>
<line x1="480.6" y1="453.2" x2="573.6" y2="453.2" stroke="#333" stroke-width="1" />
<text x="530" y="470.8" font-family="'Liberation Serif','DejaVu Serif',serif" font-size="16.6" text-anchor="middle" fill="#000" font-weight="normal" font-style="normal"  textLength="77" lengthAdjust="spacing">Time (min)</text>
<polyline points="478.5,419.3 499.6,389.2 547.5,389.2 589,340" fill="none" stroke="#4472c4" stroke-width="1.05" stroke-dasharray="4.5 3"/>
<polygon points="596.2,332.5 583.5,336.8 593,345" fill="#4472c4"/>
<text x="528.2" y="412.2" font-family="'Liberation Serif','DejaVu Serif',serif" font-size="22.5" text-anchor="start" fill="#4472c4" font-weight="normal" font-style="normal"  textLength="48" lengthAdjust="spacing">trend</text>
<polyline points="454.7,412.4 492.5,356 530.3,364.8 568.3,321 606.2,294" fill="none" stroke="#1f7d6c" stroke-width="1"/>
<polyline points="454.7,391.9 492.5,346 530.3,370.3 568.3,305.7 606.2,312.8" fill="none" stroke="#8e2346" stroke-width="1"/>
<path d="M454.7 408.2 L458.9 415.76 L450.5 415.76 Z" fill="#1f7d6c"/>
<path d="M492.5 351.8 L496.7 359.36 L488.3 359.36 Z" fill="#1f7d6c"/>
<path d="M530.3 360.6 L534.5 368.16 L526.1 368.16 Z" fill="#1f7d6c"/>
<path d="M568.3 316.8 L572.5 324.36 L564.1 324.36 Z" fill="#1f7d6c"/>
<path d="M606.2 289.8 L610.4 297.36 L602 297.36 Z" fill="#1f7d6c"/>
<circle cx="454.7" cy="391.9" r="3.3" fill="url(#ballg)" stroke="#a3274c" stroke-width="0.5"/>
<circle cx="492.5" cy="346" r="3.3" fill="url(#ballg)" stroke="#a3274c" stroke-width="0.5"/>
<circle cx="530.3" cy="370.3" r="3.3" fill="url(#ballg)" stroke="#a3274c" stroke-width="0.5"/>
<circle cx="568.3" cy="305.7" r="3.3" fill="url(#ballg)" stroke="#a3274c" stroke-width="0.5"/>
<circle cx="606.2" cy="312.8" r="3.3" fill="url(#ballg)" stroke="#a3274c" stroke-width="0.5"/>
<line x1="438.8" y1="287.6" x2="479.9" y2="287.6" stroke="#1f7d6c" stroke-width="1" />
<path d="M459.9 283.4 L464.1 290.96 L455.7 290.96 Z" fill="#1f7d6c"/>
<line x1="438.8" y1="310.9" x2="479.9" y2="310.9" stroke="#8e2346" stroke-width="1" />
<circle cx="459.9" cy="310.9" r="3.3" fill="url(#ballg)" stroke="#a3274c" stroke-width="0.5"/>
<text x="484.8" y="294.2" font-family="'Liberation Serif','DejaVu Serif',serif" font-size="18" text-anchor="start" fill="#000" font-weight="normal" font-style="normal"  textLength="71.5" lengthAdjust="spacing">C-pHLIP</text>
<text x="484.8" y="318" font-family="'Liberation Serif','DejaVu Serif',serif" font-size="18" text-anchor="start" fill="#000" font-weight="normal" font-style="normal"  textLength="67" lengthAdjust="spacing">pHLIP-1</text>
<text transform="translate(402 356) rotate(-90)" font-family="'Liberation Serif','DejaVu Serif',serif" font-size="18" text-anchor="middle">State B+C (%)</text>
<rect x="677.8" y="274.2" width="189.9" height="150.8" fill="none" stroke="#000" stroke-width="1.1" />
<line x1="672.8" y1="281.77" x2="677.8" y2="281.77" stroke="#000" stroke-width="1" />
<text x="672.2" y="286.97" font-family="'Liberation Serif','DejaVu Serif',serif" font-size="15.5" text-anchor="end" fill="#000" font-weight="normal" font-style="normal" >75</text>
<line x1="672.8" y1="320.85" x2="677.8" y2="320.85" stroke="#000" stroke-width="1" />
<text x="672.2" y="326.05" font-family="'Liberation Serif','DejaVu Serif',serif" font-size="15.5" text-anchor="end" fill="#000" font-weight="normal" font-style="normal" >60</text>
<line x1="672.8" y1="359.93" x2="677.8" y2="359.93" stroke="#000" stroke-width="1" />
<text x="672.2" y="365.12" font-family="'Liberation Serif','DejaVu Serif',serif" font-size="15.5" text-anchor="end" fill="#000" font-weight="normal" font-style="normal" >45</text>
<line x1="672.8" y1="399" x2="677.8" y2="399" stroke="#000" stroke-width="1" />
<text x="672.2" y="404.2" font-family="'Liberation Serif','DejaVu Serif',serif" font-size="15.5" text-anchor="end" fill="#000" font-weight="normal" font-style="normal" >30</text>
<line x1="675.2" y1="412.02" x2="677.8" y2="412.02" stroke="#000" stroke-width="0.9" />
<line x1="675.2" y1="385.98" x2="677.8" y2="385.98" stroke="#000" stroke-width="0.9" />
<line x1="675.2" y1="372.95" x2="677.8" y2="372.95" stroke="#000" stroke-width="0.9" />
<line x1="675.2" y1="346.9" x2="677.8" y2="346.9" stroke="#000" stroke-width="0.9" />
<line x1="675.2" y1="333.88" x2="677.8" y2="333.88" stroke="#000" stroke-width="0.9" />
<line x1="675.2" y1="307.82" x2="677.8" y2="307.82" stroke="#000" stroke-width="0.9" />
<line x1="675.2" y1="294.8" x2="677.8" y2="294.8" stroke="#000" stroke-width="0.9" />
<line x1="697.5" y1="425" x2="697.5" y2="430" stroke="#000" stroke-width="1" />
<line x1="735.2" y1="425" x2="735.2" y2="430" stroke="#000" stroke-width="1" />
<line x1="773" y1="425" x2="773" y2="430" stroke="#000" stroke-width="1" />
<line x1="810.5" y1="425" x2="810.5" y2="430" stroke="#000" stroke-width="1" />
<line x1="848.3" y1="425" x2="848.3" y2="430" stroke="#000" stroke-width="1" />
<text transform="translate(696.5 441) rotate(-15)" x="0" y="0" dy="0.32em" font-family="'Liberation Serif','DejaVu Serif',serif" font-size="16.3" text-anchor="middle" fill="#000">pH 7.4</text>
<text transform="translate(734.7 441) rotate(-15)" x="0" y="0" dy="0.32em" font-family="'Liberation Serif','DejaVu Serif',serif" font-size="16.3" text-anchor="middle" fill="#000">0-3</text>
<text transform="translate(772.5 441) rotate(-15)" x="0" y="0" dy="0.32em" font-family="'Liberation Serif','DejaVu Serif',serif" font-size="16.3" text-anchor="middle" fill="#000">3-6</text>
<text transform="translate(810 441) rotate(-15)" x="0" y="0" dy="0.32em" font-family="'Liberation Serif','DejaVu Serif',serif" font-size="16.3" text-anchor="middle" fill="#000">6-9</text>
<text transform="translate(847.3 441) rotate(-15)" x="0" y="0" dy="0.32em" font-family="'Liberation Serif','DejaVu Serif',serif" font-size="16.3" text-anchor="middle" fill="#000">pH 5.0</text>
<line x1="727.6" y1="453.2" x2="820.6" y2="453.2" stroke="#333" stroke-width="1" />
<text x="776" y="470.8" font-family="'Liberation Serif','DejaVu Serif',serif" font-size="16.6" text-anchor="middle" fill="#000" font-weight="normal" font-style="normal"  textLength="77" lengthAdjust="spacing">Time (min)</text>
<polyline points="741.8,404.5 795.5,339" fill="none" stroke="#4472c4" stroke-width="1.05" stroke-dasharray="4.5 3"/>
<polygon points="802,329.2 789.8,333.5 799.3,341.5" fill="#4472c4"/>
<polyline points="697.5,413.3 735.2,387.5 773,334.7 810.5,296.4 848.3,317.2" fill="none" stroke="#8e2346" stroke-width="1"/>
<circle cx="697.5" cy="413.3" r="3.6" fill="url(#ballg)" stroke="#a3274c" stroke-width="0.5"/>
<circle cx="735.2" cy="387.5" r="3.6" fill="url(#ballg)" stroke="#a3274c" stroke-width="0.5"/>
<circle cx="773" cy="334.7" r="3.6" fill="url(#ballg)" stroke="#a3274c" stroke-width="0.5"/>
<circle cx="810.5" cy="296.4" r="3.6" fill="url(#ballg)" stroke="#a3274c" stroke-width="0.5"/>
<circle cx="848.3" cy="317.2" r="3.6" fill="url(#ballg)" stroke="#a3274c" stroke-width="0.5"/>
<text x="693.9" y="296.1" font-family="'Liberation Serif','DejaVu Serif',serif" font-size="18" text-anchor="start" fill="#000" font-weight="normal" font-style="normal" >pHLIP-2</text>
<rect x="919.7" y="274.2" width="189.9" height="150.8" fill="none" stroke="#000" stroke-width="1.1" />
<line x1="914.7" y1="293.39" x2="919.7" y2="293.39" stroke="#000" stroke-width="1" />
<text x="914.1" y="298.59" font-family="'Liberation Serif','DejaVu Serif',serif" font-size="15.5" text-anchor="end" fill="#000" font-weight="normal" font-style="normal" >75</text>
<line x1="914.7" y1="349.89" x2="919.7" y2="349.89" stroke="#000" stroke-width="1" />
<text x="914.1" y="355.09" font-family="'Liberation Serif','DejaVu Serif',serif" font-size="15.5" text-anchor="end" fill="#000" font-weight="normal" font-style="normal" >60</text>
<line x1="914.7" y1="406.4" x2="919.7" y2="406.4" stroke="#000" stroke-width="1" />
<text x="914.1" y="411.6" font-family="'Liberation Serif','DejaVu Serif',serif" font-size="15.5" text-anchor="end" fill="#000" font-weight="normal" font-style="normal" >45</text>
<line x1="917.1" y1="387.56" x2="919.7" y2="387.56" stroke="#000" stroke-width="0.9" />
<line x1="917.1" y1="368.73" x2="919.7" y2="368.73" stroke="#000" stroke-width="0.9" />
<line x1="917.1" y1="331.06" x2="919.7" y2="331.06" stroke="#000" stroke-width="0.9" />
<line x1="917.1" y1="312.22" x2="919.7" y2="312.22" stroke="#000" stroke-width="0.9" />
<line x1="917.1" y1="274.55" x2="919.7" y2="274.55" stroke="#000" stroke-width="0.9" />
<line x1="939.6" y1="425" x2="939.6" y2="430" stroke="#000" stroke-width="1" />
<line x1="977.1" y1="425" x2="977.1" y2="430" stroke="#000" stroke-width="1" />
<line x1="1014.9" y1="425" x2="1014.9" y2="430" stroke="#000" stroke-width="1" />
<line x1="1052.7" y1="425" x2="1052.7" y2="430" stroke="#000" stroke-width="1" />
<line x1="1090.1" y1="425" x2="1090.1" y2="430" stroke="#000" stroke-width="1" />
<text transform="translate(938.6 441) rotate(-15)" x="0" y="0" dy="0.32em" font-family="'Liberation Serif','DejaVu Serif',serif" font-size="16.3" text-anchor="middle" fill="#000">pH 7.4</text>
<text transform="translate(976.6 441) rotate(-15)" x="0" y="0" dy="0.32em" font-family="'Liberation Serif','DejaVu Serif',serif" font-size="16.3" text-anchor="middle" fill="#000">0-3</text>
<text transform="translate(1014.4 441) rotate(-15)" x="0" y="0" dy="0.32em" font-family="'Liberation Serif','DejaVu Serif',serif" font-size="16.3" text-anchor="middle" fill="#000">3-6</text>
<text transform="translate(1052.2 441) rotate(-15)" x="0" y="0" dy="0.32em" font-family="'Liberation Serif','DejaVu Serif',serif" font-size="16.3" text-anchor="middle" fill="#000">6-9</text>
<text transform="translate(1089.1 441) rotate(-15)" x="0" y="0" dy="0.32em" font-family="'Liberation Serif','DejaVu Serif',serif" font-size="16.3" text-anchor="middle" fill="#000">pH 5.0</text>
<line x1="969.2" y1="453.2" x2="1062" y2="453.2" stroke="#333" stroke-width="1" />
<text x="1017.6" y="470.8" font-family="'Liberation Serif','DejaVu Serif',serif" font-size="16.6" text-anchor="middle" fill="#000" font-weight="normal" font-style="normal"  textLength="77" lengthAdjust="spacing">Time (min)</text>
<polyline points="956.6,393.3 975.2,351.7 1046.4,351.7" fill="none" stroke="#4472c4" stroke-width="1.05" stroke-dasharray="4.5 3"/>
<polygon points="1058.7,351.7 1046.4,345.2 1046.4,358.2" fill="#4472c4"/>
<polyline points="939.6,396.3 977.1,312.3 1014.9,327 1052.7,311.5 1090.1,318.8" fill="none" stroke="#8e2346" stroke-width="1"/>
<circle cx="939.6" cy="396.3" r="3.6" fill="url(#ballg)" stroke="#a3274c" stroke-width="0.5"/>
<circle cx="977.1" cy="312.3" r="3.6" fill="url(#ballg)" stroke="#a3274c" stroke-width="0.5"/>
<circle cx="1014.9" cy="327" r="3.6" fill="url(#ballg)" stroke="#a3274c" stroke-width="0.5"/>
<circle cx="1052.7" cy="311.5" r="3.6" fill="url(#ballg)" stroke="#a3274c" stroke-width="0.5"/>
<circle cx="1090.1" cy="318.8" r="3.6" fill="url(#ballg)" stroke="#a3274c" stroke-width="0.5"/>
<text x="936" y="296.1" font-family="'Liberation Serif','DejaVu Serif',serif" font-size="18" text-anchor="start" fill="#000" font-weight="normal" font-style="normal" >pHLIP-3</text>
</g>
<g id="panel-d">
<text x="354" y="520.5" font-family="'Liberation Serif','DejaVu Serif',serif" font-size="27.5" text-anchor="start" fill="#000" font-weight="bold" font-style="normal" >d</text>
<rect x="403.2" y="644.53" width="12.1" height="81.57" fill="#8dd3c7" stroke="none" stroke-width="1" />
<path d="M403.2 726.1 V644.53 H415.3" fill="none" stroke="#000" stroke-width="0.9" stroke-dasharray="3 2"/>
<rect x="415.3" y="697.57" width="12.1" height="28.53" fill="#fdb975" stroke="#000" stroke-width="0.9" />
<rect x="427.4" y="652.42" width="12.1" height="73.68" fill="#7eaed3" stroke="#000" stroke-width="0.9" />
<rect x="439.5" y="614.61" width="12.1" height="111.49" fill="#f97f72" stroke="#000" stroke-width="0.9" />
<rect x="451.6" y="617.6" width="12.1" height="108.5" fill="#bebada" stroke="#000" stroke-width="0.9" />
<rect x="478.4" y="685.6" width="12.1" height="40.5" fill="#8dd3c7" stroke="none" stroke-width="1" />
<path d="M478.4 726.1 V685.6 H490.5" fill="none" stroke="#000" stroke-width="0.9" stroke-dasharray="3 2"/>
<rect x="490.5" y="668.74" width="12.1" height="57.36" fill="#fdb975" stroke="#000" stroke-width="0.9" />
<rect x="502.6" y="618.69" width="12.1" height="107.41" fill="#7eaed3" stroke="#000" stroke-width="0.9" />
<rect x="514.7" y="629.57" width="12.1" height="96.53" fill="#f97f72" stroke="#000" stroke-width="0.9" />
<rect x="526.8" y="573.54" width="12.1" height="152.56" fill="#bebada" stroke="#000" stroke-width="0.9" />
<rect x="553.6" y="605.09" width="12.1" height="121.01" fill="#8dd3c7" stroke="none" stroke-width="1" />
<path d="M553.6 726.1 V605.09 H565.7" fill="none" stroke="#000" stroke-width="0.9" stroke-dasharray="3 2"/>
<rect x="565.7" y="600.46" width="12.1" height="125.64" fill="#fdb975" stroke="#000" stroke-width="0.9" />
<rect x="577.8" y="605.63" width="12.1" height="120.47" fill="#7eaed3" stroke="#000" stroke-width="0.9" />
<rect x="589.9" y="613.25" width="12.1" height="112.85" fill="#f97f72" stroke="#000" stroke-width="0.9" />
<rect x="602" y="588.39" width="12.1" height="137.71" fill="#bebada" stroke="#000" stroke-width="0.9" />
<rect x="395.5" y="546.4" width="226" height="179.7" fill="none" stroke="#000" stroke-width="1.1" />
<line x1="390.5" y1="699.2" x2="395.5" y2="699.2" stroke="#000" stroke-width="1" />
<text x="387.5" y="704.4" font-family="'Liberation Serif','DejaVu Serif',serif" font-size="15.5" text-anchor="end" fill="#000" font-weight="normal" font-style="normal" >0.4</text>
<line x1="390.5" y1="644.8" x2="395.5" y2="644.8" stroke="#000" stroke-width="1" />
<text x="387.5" y="650" font-family="'Liberation Serif','DejaVu Serif',serif" font-size="15.5" text-anchor="end" fill="#000" font-weight="normal" font-style="normal" >0.5</text>
<line x1="390.5" y1="590.4" x2="395.5" y2="590.4" stroke="#000" stroke-width="1" />
<text x="387.5" y="595.6" font-family="'Liberation Serif','DejaVu Serif',serif" font-size="15.5" text-anchor="end" fill="#000" font-weight="normal" font-style="normal" >0.6</text>
<line x1="392.5" y1="726.4" x2="395.5" y2="726.4" stroke="#000" stroke-width="1" />
<line x1="392.5" y1="672" x2="395.5" y2="672" stroke="#000" stroke-width="1" />
<line x1="392.5" y1="617.6" x2="395.5" y2="617.6" stroke="#000" stroke-width="1" />
<line x1="392.5" y1="563.2" x2="395.5" y2="563.2" stroke="#000" stroke-width="1" />
<line x1="433.45" y1="726.1" x2="433.45" y2="731.1" stroke="#000" stroke-width="1" />
<line x1="508.65" y1="726.1" x2="508.65" y2="731.1" stroke="#000" stroke-width="1" />
<line x1="583.85" y1="726.1" x2="583.85" y2="731.1" stroke="#000" stroke-width="1" />
<text transform="translate(431.95 747.5) rotate(-20)" x="0" y="0" dy="0.32em" font-family="'Liberation Serif','DejaVu Serif',serif" font-size="15" text-anchor="middle" fill="#000">C-pHLIP</text>
<text transform="translate(507.15 747.5) rotate(-20)" x="0" y="0" dy="0.32em" font-family="'Liberation Serif','DejaVu Serif',serif" font-size="15" text-anchor="middle" fill="#000">pHLIP-1</text>
<text transform="translate(582.35 747.5) rotate(-20)" x="0" y="0" dy="0.32em" font-family="'Liberation Serif','DejaVu Serif',serif" font-size="15" text-anchor="middle" fill="#000">pHLIP-3</text>
<line x1="418.9" y1="675.7" x2="445.1" y2="627" stroke="#000" stroke-width="0.9" />
<polygon points="445.1,627 444.67,632.45 440.79,630.36" fill="#000"/>
<line x1="496.2" y1="669.7" x2="530.8" y2="618.3" stroke="#000" stroke-width="0.9" />
<polygon points="530.8,618.3 529.83,623.68 526.18,621.22" fill="#000"/>
<line x1="568.4" y1="597.5" x2="605.4" y2="597.5" stroke="#000" stroke-width="0.9" />
<polygon points="605.4,597.5 600.4,599.7 600.4,595.3" fill="#000"/>
<text x="487" y="533" font-family="'Liberation Serif','DejaVu Serif',serif" font-size="22" text-anchor="start" fill="#000" font-weight="normal" font-style="normal" >State B (2<tspan font-size="14" dy="-8">nd</tspan><tspan dy="8"> peak)</tspan></text>
<rect x="398.2" y="527.5" width="79.5" height="82.7" fill="#fff" stroke="#000" stroke-width="1" />
<rect x="400.4" y="529.3" width="30.2" height="14.2" fill="#8dd3c7" stroke="#000" stroke-width="1" stroke-dasharray="3.2 2"/>
<text x="432.9" y="540.5" font-family="'Liberation Serif','DejaVu Serif',serif" font-size="13" text-anchor="start" fill="#000" font-weight="normal" font-style="normal"  textLength="35.8" lengthAdjust="spacing">pH 7.4</text>
<rect x="400.4" y="545.8" width="30.2" height="14.2" fill="#fdb975" stroke="#000" stroke-width="1" />
<text x="432.9" y="557" font-family="'Liberation Serif','DejaVu Serif',serif" font-size="13" text-anchor="start" fill="#000" font-weight="normal" font-style="normal"  textLength="42.4" lengthAdjust="spacing">0-3 min</text>
<rect x="400.4" y="561.9" width="30.2" height="14.2" fill="#7eaed3" stroke="#000" stroke-width="1" />
<text x="432.9" y="572.9" font-family="'Liberation Serif','DejaVu Serif',serif" font-size="13" text-anchor="start" fill="#000" font-weight="normal" font-style="normal"  textLength="42.4" lengthAdjust="spacing">3-6 min</text>
<rect x="400.4" y="577.9" width="30.2" height="14.2" fill="#f97f72" stroke="#000" stroke-width="1" />
<text x="432.9" y="588.8" font-family="'Liberation Serif','DejaVu Serif',serif" font-size="13" text-anchor="start" fill="#000" font-weight="normal" font-style="normal"  textLength="42.4" lengthAdjust="spacing">6-9 min</text>
<rect x="400.4" y="594" width="30.2" height="14.2" fill="#bebada" stroke="#000" stroke-width="1" />
<text x="432.9" y="604.6" font-family="'Liberation Serif','DejaVu Serif',serif" font-size="13" text-anchor="start" fill="#000" font-weight="normal" font-style="normal"  textLength="35.8" lengthAdjust="spacing">pH 5.0</text>
<text transform="translate(357 639.5) rotate(-90)" font-family="'Liberation Serif','DejaVu Serif',serif" font-size="18" text-anchor="middle" font-style="italic">F<tspan font-style="normal">/</tspan>F<tspan font-size="12" dy="3.5" font-style="normal">0</tspan></text>
</g>
<g id="panel-e">
<text x="677" y="524" font-family="'Liberation Serif','DejaVu Serif',serif" font-size="27.5" text-anchor="start" fill="#000" font-weight="bold" font-style="normal" >e</text>
<text x="749.5" y="526.7" font-family="'Liberation Serif','DejaVu Serif',serif" font-size="16.5" text-anchor="start" fill="#000" font-weight="normal" font-style="normal"  textLength="56.5" lengthAdjust="spacing">0-3 min</text>
<text x="889.3" y="526.7" font-family="'Liberation Serif','DejaVu Serif',serif" font-size="16.5" text-anchor="start" fill="#000" font-weight="normal" font-style="normal"  textLength="56.5" lengthAdjust="spacing">3-6 min</text>
<text x="1014.3" y="525.6" font-family="'Liberation Serif','DejaVu Serif',serif" font-size="16.5" text-anchor="start" fill="#000" font-weight="normal" font-style="normal"  textLength="56.5" lengthAdjust="spacing">6-9 min</text>
<line x1="723.6" y1="533.6" x2="1113" y2="533.2" stroke="#808080" stroke-width="1.3" />
<polygon points="1124,533.2 1112.3,527 1112.3,539.4" fill="#7f7f7f"/>
<text x="636.5" y="588" font-family="'Liberation Serif','DejaVu Serif',serif" font-size="18.7" text-anchor="start" fill="#000" font-weight="normal" font-style="normal" >C-pHLIP</text>
<text x="635.8" y="704.8" font-family="'Liberation Serif','DejaVu Serif',serif" font-size="18.5" text-anchor="start" fill="#000" font-weight="normal" font-style="normal"  textLength="64.5" lengthAdjust="spacing">pHLIP-3</text>
<g transform="translate(713.6 545.6) scale(1 1.0)">
<rect x="0" y="0" width="422" height="33.6" fill="url(#lipU)"/>
<g transform="translate(0 35)"><rect x="0" y="1.4" width="422" height="33.6" fill="url(#lipL)"/></g>
<rect x="0" y="33.4" width="422" height="3.2" fill="#f4f4f4"/>
</g>
<rect x="732" y="548" width="113" height="32.5" fill="#f9c4a0" opacity="0.6" filter="url(#blur2)"/>
<rect x="872" y="561" width="107" height="24" fill="#f9c4a0" opacity="0.64" filter="url(#blur2)"/>
<rect x="1013" y="585" width="108" height="32.5" fill="#f9c4a0" opacity="0.8" filter="url(#blur2)"/>
<path d="M725.39 547.26 L725.33 547.7 L725.15 547.63 L725.06 547.05 L725.28 546.06 L725.97 544.9 L727.14 543.84 L728.73 543.14 L730.53 543 L732.28 543.53 L733.71 544.65 L734.61 546.17 L734.9 547.83 L734.62 549.32 L733.96 550.4 L733.2 550.94 L732.62 550.96 L732.46 550.59 L732.86 550.08 L733.8 549.7 L735.14 549.67 L736.67 550.17 L737.82 551.6 L737.97 553.46 L737.42 554.94" fill="none" stroke="#d9908c" stroke-width="1.7" stroke-linecap="round" stroke-linejoin="round" opacity="1"/>
<path d="M733.64 555.35 L734.69 554.98 L736.06 554.49 L737.69 554.04 L739.48 553.78 L741.33 553.82 L743.12 554.23 L744.76 555 L746.19 556.08 L747.37 557.36 L748.29 558.67 L748.98 559.84 L749.48 560.73 L749.86 561.2 L750.17 561.18 L750.52 560.69 L750.97 559.76 L751.6 558.54 L752.47 557.16 L753.61 555.8 L755.03 554.62 L756.69 553.73 L758.59 553.74 L760.18 554.35 L761.2 554.73" fill="none" stroke="#d9908c" stroke-width="1.7" stroke-linecap="round" stroke-linejoin="round" opacity="1"/>
<path d="M760.67 557.22 L761.27 558.73 L761.81 559.54 L762.33 559.52 L762.89 558.66 L763.53 557.12 L764.3 555.2 L765.21 553.25 L766.24 551.63 L767.37 550.64 L768.56 550.45 L769.74 551.12 L770.87 552.49 L771.89 554.32 L772.79 556.26 L773.54 557.95 L774.17 559.06 L774.71 559.38 L775.2 558.85 L775.72 557.55 L776.31 555.71 L777.01 553.68 L777.87 551.81 L778.87 550.43 L779.99 549.8 L781.2 550.02 L782.43 551.02 L783.61 552.61 L784.69 554.48 L785.63 556.27 L786.4 557.62 L787.01 558.27 L787.51 558.08 L787.94 557.07 L788.38 555.4 L788.9 553.37 L789.55 551.33 L790.38 549.64 L791.38 548.59 L792.55 548.35 L793.82 548.94 L795.12 550.22 L796.37 551.93 L797.5 553.72 L798.45 555.25 L799.2 556.19 L799.75 556.34 L800.14 555.33 L800.54 553.58 L801.1 551.91 L801.86 550.71 L802.79 550.15 L803.82 550.2" fill="none" stroke="#d9908c" stroke-width="1.9" stroke-linecap="round" stroke-linejoin="round" opacity="1"/>
<path d="M733.86 559.44 L733.29 560.37 L732.72 560.99 L732.31 561.29 L732.2 561.3 L732.45 561.13 L733.09 560.89 L734.06 560.74 L735.25 560.78 L736.51 561.11 L737.68 561.77 L738.62 562.73 L739.22 563.94 L739.44 565.27 L739.29 566.59 L738.86 567.77 L738.29 568.71 L738.1 568.56 L738.75 568.24" fill="none" stroke="#c9746e" stroke-width="1.2" stroke-linecap="round" stroke-linejoin="round" opacity="0.9"/>
<path d="M734.95 566.48 L735.57 567.03 L736.4 567.47 L737.39 567.86 L738.44 568.26 L739.43 568.74 L740.25 569.37 L740.82 570.19 L741.09 571.22 L741.08 572.4 L740.87 573.66 L740.59 574.9 L740.39 576 L740.41 576.86 L740.77 577.41 L741.51 577.64 L742.62 577.59 L744.01 577.37 L745.53 577.13 L747.01 577.04 L748.26 577.24 L749.16 577.85 L749.64 578.89 L749.7 580.32 L749.42 581.99 L749 583.67 L748.65 585.14 L748.55 586.21 L748.82 586.78 L749.51 586.83 L750.61 586.43 L752.03 585.75 L753.61 584.99 L755.19 584.39 L756.61 584.15 L757.74 584.42 L758.52 585.22 L758.95 586.52 L759.08 588.16 L759.04 589.93 L758.97 591.57 L759 592.86 L759.27 593.63 L759.83 593.82 L760.72 593.43 L761.9 592.63 L763.27 591.61 L764.74 590.76 L766.01 590.58 L767 591.02 L767.74 591.88 L768.33 592.9 L768.88 593.79" fill="none" stroke="#c9746e" stroke-width="1.25" stroke-linecap="round" stroke-linejoin="round" opacity="0.95"/>
<path d="M728.21 544.73 L727.56 545.07 L727.31 545.24 L727.51 545.34 L728.13 545.48 L729.11 545.76 L730.31 546.25 L731.58 547 L732.78 548.01 L733.78 549.26 L734.49 550.7 L734.85 552.23 L734.9 553.77 L734.69 555.19 L734.31 556.41 L733.89 557.33 L733.55 557.91 L733.41 558.12 L733.56 558 L734.05 557.63 L734.89 557.13 L736.07 556.62 L737.52 556.24 L739.14 556.13 L740.83 556.36 L742.14 557.59 L742.91 558.9 L743.33 559.86" fill="none" stroke="#b8403c" stroke-width="1.9" stroke-linecap="round" stroke-linejoin="round" opacity="1"/>
<path d="M743.08 560.85 L743.44 562.01 L743.66 562.87 L743.87 563.33 L744.18 563.38 L744.71 563.06 L745.52 562.5 L746.63 561.87 L747.97 561.34 L749.47 561.08 L750.97 561.22 L752.33 561.78 L753.44 562.76 L754.22 564.05 L754.64 565.5 L754.75 566.95 L754.66 568.22 L754.5 569.2 L754.44 569.82 L754.61 570.09 L755.1 570.07 L756.24 569.86 L757.78 570.02 L758.94 570.8" fill="none" stroke="#a02c28" stroke-width="2.0" stroke-linecap="round" stroke-linejoin="round" opacity="1"/>
<path d="M759.03 572.94 L759.47 574.69 L759.75 575.77 L759.97 575.96 L760.22 575.25 L760.61 573.75 L761.19 571.76 L762.01 569.64 L763.04 567.79 L764.21 566.56 L765.44 566.17 L766.61 566.72 L767.64 568.09 L768.45 570.06 L769.02 572.25 L769.39 574.29 L769.6 575.79 L769.77 576.5 L770.01 576.29 L770.4 575.23 L771.03 573.52 L771.9 571.49 L773 569.53 L774.24 568.03 L775.52 567.28 L776.72 567.42 L777.75 568.47 L778.52 570.23 L779.03 572.4 L779.3 574.6 L779.42 576.45 L779.5 577.63 L779.65 577.95 L780.01 577.36 L780.63 576.02 L781.54 574.19 L782.7 572.25 L784.03 570.57 L785.41 569.5 L786.7 569.26 L787.78 569.93 L788.57 571.4 L789.05 573.45 L789.23 575.7 L789.21 577.3 L789.38 577.92 L789.84 577.72 L790.59 577.03 L791.53 576.31" fill="none" stroke="#7a1414" stroke-width="2.1" stroke-linecap="round" stroke-linejoin="round" opacity="1"/>
<circle cx="809" cy="545.8" r="8.7" fill="url(#glow)"/>
<polygon points="814.02,546.82 811.27,547.08 812.61,549.74 810.08,548.17 809.7,551.87 808.48,548.36 806.47,550.28 807.08,547.56 804.24,547.97 806.41,546.1 803.71,544.73 806.73,544.52 805.92,542.44 807.92,543.43 808.4,540.59 809.52,543.24 811.7,541.02 810.92,544.04 814.3,543.38 811.59,545.5" fill="#ee6a22"/>
<polygon points="811.1,546.95 810.43,547.32 810.07,548.07 809.27,547.87 808.56,548.16 808,547.63 806.98,547.7 807.11,546.69 806.31,546.15 806.95,545.41 806.92,544.66 807.57,544.28 807.77,543.21 808.73,543.73 809.53,543 810,543.97 810.96,543.95 810.89,544.91 811.65,545.46 811.05,546.19" fill="#ffd52e"/>
<circle cx="772.7" cy="600" r="11.78" fill="url(#glow)"/>
<polygon points="780.44,601.57 776.17,601.96 778.44,606.25 774.36,603.63 773.67,608.46 771.91,603.91 769.34,605.95 769.76,602.7 766.86,602.67 768.74,600.45 765.27,598.49 769.23,598.04 767.79,594.65 771.04,596.37 771.68,591.09 773.49,596.09 776.92,592.52 775.64,597.3 780.25,596.55 776.66,599.55" fill="#f0701e"/>
<polygon points="776.41,602.03 775,602.43 774.55,603.9 773.13,603.32 771.98,603.82 771.1,602.93 769.7,602.84 769.68,601.43 768.83,600.5 769.41,599.38 768.73,597.83 770.4,597.57 771.07,596.56 772.27,596.68 773.52,595.63 774.3,597.07 775.48,597.37 775.72,598.57 777,599.45 775.99,600.62" fill="#ffe21a"/>
<circle cx="796.8" cy="574.8" r="10.85" fill="url(#glow2)"/>
<polygon points="803.58,576.18 800.42,576.84 802.24,580.73 798.53,578.58 797.72,582.79 795.97,578.88 792.63,582.19 793.74,577.61 790.68,577.59 792.67,575.27 790.09,573.44 793.18,572.76 792.32,569.92 795.07,571.02 796.02,568.01 797.63,570.72 800.82,567.68 799.86,571.99 802.79,572.07 800.93,574.33" fill="#d41c04" stroke="#a80e00" stroke-width="0.3"/>
<polygon points="800.39,576.76 799.03,577.16 798.44,578.26 797.22,578.02 796.08,578.63 795.24,577.65 793.89,577.55 793.86,576.19 792.5,575.35 793.61,574.2 793.16,572.81 794.57,572.44 795.23,571.49 796.38,571.58 797.52,570.99 798.36,571.95 799.54,572.21 799.74,573.41 801.13,574.24 799.99,575.4" fill="#fff200"/>
<path d="M876.39 544.26 L876.33 544.7 L876.15 544.63 L876.06 544.05 L876.28 543.06 L876.97 541.9 L878.14 540.84 L879.73 540.14 L881.53 540 L883.28 540.53 L884.71 541.65 L885.61 543.17 L885.9 544.83 L885.62 546.32 L884.96 547.4 L884.2 547.94 L883.62 547.96 L883.46 547.59 L883.86 547.08 L884.8 546.7 L886.14 546.67 L887.67 547.17 L888.82 548.6 L888.97 550.46 L888.42 551.94" fill="none" stroke="#d9908c" stroke-width="1.7" stroke-linecap="round" stroke-linejoin="round" opacity="1"/>
<path d="M884.64 552.35 L885.69 551.98 L887.06 551.49 L888.69 551.04 L890.48 550.78 L892.33 550.82 L894.12 551.23 L895.76 552 L897.19 553.08 L898.37 554.36 L899.29 555.67 L899.98 556.84 L900.48 557.73 L900.86 558.2 L901.17 558.18 L901.52 557.69 L901.97 556.76 L902.6 555.54 L903.47 554.16 L904.61 552.8 L906.03 551.62 L907.69 550.73 L909.59 550.74 L911.18 551.35 L912.2 551.73" fill="none" stroke="#d9908c" stroke-width="1.7" stroke-linecap="round" stroke-linejoin="round" opacity="1"/>
<path d="M911.17 554.32 L911.39 555.91 L911.7 556.81 L912.18 556.89 L912.87 556.17 L913.81 554.8 L914.94 553.09 L916.22 551.37 L917.54 550.01 L918.83 549.28 L919.99 549.36 L920.97 550.26 L921.73 551.84 L922.3 553.84 L922.71 555.93 L923.04 557.73 L923.38 558.94 L923.79 559.37 L924.36 558.95 L925.11 557.79 L926.05 556.12 L927.15 554.29 L928.36 552.64 L929.6 551.52 L930.8 551.14 L931.89 551.61 L932.83 552.85 L933.6 554.66 L934.21 556.72 L934.7 558.66 L935.12 560.14 L935.55 560.91 L936.03 560.83 L936.64 559.93 L937.4 558.4 L938.31 556.53 L939.36 554.68 L940.5 553.21 L941.68 552.4 L942.83 552.42 L943.9 553.27 L944.86 554.8 L945.67 556.74 L946.34 558.74 L946.9 560.43 L947.39 561.51 L947.86 561.78 L948.42 560.88 L949.16 559.26 L950.03 557.75 L951 556.74 L952 556.4 L952.95 556.68" fill="none" stroke="#d9908c" stroke-width="1.9" stroke-linecap="round" stroke-linejoin="round" opacity="1"/>
<path d="M884.86 556.44 L884.29 557.37 L883.72 557.99 L883.31 558.29 L883.2 558.3 L883.45 558.13 L884.09 557.89 L885.06 557.74 L886.25 557.78 L887.51 558.11 L888.68 558.77 L889.62 559.73 L890.22 560.94 L890.44 562.27 L890.29 563.59 L889.86 564.77 L889.29 565.71 L889.1 565.56 L889.75 565.24" fill="none" stroke="#c9746e" stroke-width="1.2" stroke-linecap="round" stroke-linejoin="round" opacity="0.9"/>
<path d="M885.88 563.25 L886.36 563.89 L887.08 564.48 L887.96 565.04 L888.89 565.62 L889.75 566.27 L890.42 567.04 L890.79 567.94 L890.83 568.97 L890.57 570.11 L890.1 571.28 L889.56 572.42 L889.13 573.43 L888.96 574.26 L889.19 574.85 L889.85 575.2 L890.94 575.36 L892.33 575.41 L893.86 575.47 L895.31 575.66 L896.48 576.11 L897.23 576.87 L897.46 577.97 L897.22 579.35 L896.59 580.92 L895.81 582.46 L895.15 583.8 L894.82 584.81 L894.95 585.4 L895.61 585.58 L896.75 585.4 L898.26 585 L899.95 584.57 L901.6 584.3 L903.03 584.34 L904.06 584.81 L904.64 585.75 L904.78 587.09 L904.56 588.71 L904.14 590.41 L903.71 591.98 L903.46 593.24 L903.54 594.04 L904.03 594.32 L904.96 594.11 L906.26 593.55 L907.8 592.82 L909.39 592.28 L910.65 592.36 L911.51 592.97 L912.04 593.96 L912.38 595.06 L912.72 596.03" fill="none" stroke="#c9746e" stroke-width="1.25" stroke-linecap="round" stroke-linejoin="round" opacity="0.95"/>
<path d="M879.21 541.73 L878.56 542.07 L878.31 542.24 L878.51 542.34 L879.13 542.48 L880.11 542.76 L881.31 543.25 L882.58 544 L883.78 545.01 L884.78 546.26 L885.49 547.7 L885.85 549.23 L885.9 550.77 L885.69 552.19 L885.31 553.41 L884.89 554.33 L884.55 554.91 L884.41 555.12 L884.56 555 L885.05 554.63 L885.89 554.13 L887.07 553.62 L888.52 553.24 L890.14 553.13 L891.83 553.36 L893.14 554.59 L893.91 555.9 L894.33 556.86" fill="none" stroke="#b8403c" stroke-width="1.9" stroke-linecap="round" stroke-linejoin="round" opacity="1"/>
<path d="M894.08 557.85 L894.44 559.01 L894.66 559.87 L894.87 560.33 L895.18 560.38 L895.71 560.06 L896.52 559.5 L897.63 558.87 L898.97 558.34 L900.47 558.08 L901.97 558.22 L903.33 558.78 L904.44 559.76 L905.22 561.05 L905.64 562.5 L905.75 563.95 L905.66 565.22 L905.5 566.2 L905.44 566.82 L905.61 567.09 L906.1 567.07 L907.24 566.86 L908.78 567.02 L909.94 567.8" fill="none" stroke="#a02c28" stroke-width="2.0" stroke-linecap="round" stroke-linejoin="round" opacity="1"/>
<path d="M909.23 570.18 L908.97 571.97 L908.82 573.07 L908.94 573.33 L909.44 572.76 L910.36 571.52 L911.65 569.89 L913.19 568.23 L914.83 566.9 L916.38 566.19 L917.65 566.29 L918.53 567.24 L918.96 568.9 L918.97 571.02 L918.68 573.27 L918.25 575.28 L917.88 576.76 L917.76 577.48 L918.05 577.37 L918.81 576.53 L920.03 575.17 L921.6 573.62 L923.34 572.22 L925.05 571.29 L926.52 571.06 L927.57 571.65 L928.13 573 L928.18 574.92 L927.83 577.12 L927.25 579.26 L926.66 581.02 L926.28 582.14 L926.31 582.48 L926.85 582.07 L927.92 581.06 L929.45 579.7 L931.25 578.33 L933.11 577.27 L934.79 576.79 L936.07 577.05 L936.81 578.07 L936.99 579.74 L936.66 581.81 L935.98 583.95 L935.35 585.43 L935.27 586.07 L935.77 586.05 L936.72 585.69 L937.86 585.38" fill="none" stroke="#7a1414" stroke-width="2.1" stroke-linecap="round" stroke-linejoin="round" opacity="1"/>
<circle cx="958" cy="552.3" r="8.7" fill="url(#glow)"/>
<polygon points="962.43,553.2 960.27,553.58 961.8,556.44 959.08,554.67 958.63,557.77 957.48,554.86 955.45,556.81 956.08,554.06 953.79,554.22 955.41,552.6 952.29,551.14 955.73,551.02 954.04,547.98 956.92,549.93 957.4,547.09 958.52,549.74 960.57,547.75 959.92,550.54 962.25,550.36 960.59,552" fill="#ee6a22"/>
<polygon points="960.06,553.43 959.43,553.82 959.09,554.6 958.27,554.37 957.51,554.91 957,554.13 956.27,553.94 956.11,553.19 955.26,552.65 955.95,551.91 955.83,551.12 956.57,550.78 956.94,550.07 957.73,550.23 958.44,549.97 959,550.47 960.09,550.33 959.89,551.41 960.71,551.95 960.05,552.69" fill="#ffd52e"/>
<circle cx="916.5" cy="602.2" r="11.78" fill="url(#glow)"/>
<polygon points="925.75,604.08 919.97,604.16 921.12,607.23 918.16,605.83 917.24,608.62 915.71,606.11 911.79,610.53 913.56,604.9 910.16,605.1 912.54,602.65 909.87,600.86 913.03,600.24 910.78,595.96 914.84,598.57 915.65,594.76 917.29,598.29 921.04,594.17 919.44,599.5 922.98,599.24 920.46,601.75" fill="#f0701e"/>
<polygon points="920.51,604.39 918.8,604.63 918.23,605.84 916.93,605.52 915.71,606.39 914.9,605.13 913.2,605.32 913.48,603.63 912.2,602.75 913.21,601.58 912.52,600.03 914.2,599.77 914.64,598.27 916.07,598.88 917.2,598.46 918.1,599.27 919.77,599.11 919.52,600.77 920.72,601.66 919.79,602.82" fill="#ffe21a"/>
<circle cx="943.3" cy="584" r="10.85" fill="url(#glow2)"/>
<polygon points="951.81,585.73 946.92,586.04 949.21,590.44 945.03,587.78 944.28,592.54 942.47,588.08 940.12,589.62 940.24,586.81 936.2,587.24 939.17,584.47 936.09,582.54 939.68,581.96 938.13,578.37 941.57,580.22 942.55,577.46 944.13,579.92 946.62,578.13 946.36,581.19 950.04,580.92 947.43,583.53" fill="#d41c04" stroke="#a80e00" stroke-width="0.3"/>
<polygon points="946.66,585.84 945.53,586.36 945.02,587.64 943.72,587.22 942.62,587.61 941.74,586.85 940.59,586.56 940.36,585.39 939.1,584.54 940.11,583.4 939.79,582.08 941.07,581.64 941.56,580.32 942.88,580.78 944.09,579.82 944.86,581.15 946.17,581.29 946.24,582.61 946.97,583.53 946.49,584.6" fill="#fff200"/>
<path d="M1015.14 547.17 L1015.68 547.84 L1016.21 548.35 L1016.79 548.61 L1017.44 548.61 L1018.19 548.35 L1019.04 547.92 L1019.98 547.44 L1020.97 547.03 L1021.98 546.82 L1022.95 546.91 L1023.83 547.33 L1024.6 548.07 L1025.25 549.02 L1025.79 550.06 L1026.26 551.01 L1026.71 551.72 L1027.19 552.07 L1027.75 552.02 L1028.44 551.57 L1029.27 550.84 L1030.22 549.99 L1031.27 549.21 L1032.36 548.69 L1033.43 548.57 L1034.42 548.92 L1035.28 549.73 L1035.99 550.89 L1036.55 552.21 L1036.99 553.47 L1037.38 554.45 L1037.77 554.98 L1038.23 554.96 L1038.82 554.41 L1039.58 553.43 L1040.5 552.22 L1041.55 551.04 L1042.69 550.14 L1043.85 549.73 L1044.95 549.92 L1045.93 550.73 L1046.74 552.03 L1047.37 553.61 L1047.85 555.2 L1048.21 556.51 L1048.54 557.29 L1048.91 557.38 L1049.39 556.76 L1050.05 555.59 L1050.88 554.12 L1051.89 552.64 L1053.01 551.44 L1054.19 550.77 L1055.35 550.77 L1056.42 551.46 L1057.34 552.72 L1058.09 554.32 L1058.66 555.97 L1059.11 557.38 L1059.47 558.29 L1059.83 558.53 L1060.26 558.07 L1060.81 557.02 L1061.52 555.57 L1062.4 554.01 L1063.43 552.64 L1064.56 551.75 L1065.72 551.49 L1066.85 551.93 L1067.87 552.99 L1068.75 554.48 L1069.46 556.11 L1070.02 557.59 L1070.45 558.64 L1070.83 559.07 L1071.22 558.79 L1071.68 557.86 L1072.28 556.46 L1073.04 554.86 L1073.95 553.37 L1075.01 552.26 L1076.15 551.75 L1077.3 551.93 L1078.41 552.77 L1079.41 554.11 L1080.25 555.7 L1080.93 557.22 L1081.46 558.4 L1081.89 558.99 L1082.26 558.89 L1082.69 557.97 L1083.26 556.6 L1083.99 555.2 L1084.85 554.06 L1085.81 553.36 L1086.82 553.16 L1087.8 553.39 L1088.73 553.89 L1089.57 554.46 L1090.34 554.9 L1091.04 555.11" fill="none" stroke="#c9615c" stroke-width="1.25" stroke-linecap="round" stroke-linejoin="round" opacity="1"/>
<path d="M1006.59 548.39 L1006.48 549.02 L1006.68 549.6 L1007.2 550.17 L1007.96 550.76 L1008.87 551.42 L1009.75 552.15 L1010.47 552.99 L1010.87 553.92 L1010.88 554.92 L1010.5 555.96 L1009.79 556.97 L1008.9 557.92 L1008.01 558.75 L1007.32 559.46 L1007.02 560.03 L1007.19 560.49 L1007.86 560.9 L1008.96 561.3 L1010.31 561.78 L1011.69 562.37 L1012.86 563.14 L1013.61 564.07 L1013.81 565.15 L1013.41 566.32 L1012.51 567.52 L1011.29 568.65 L1009.99 569.64 L1008.91 570.44 L1008.28 571.03 L1008.29 571.41 L1008.98 571.65 L1010.3 571.84 L1012.03 572.07 L1013.89 572.44 L1015.57 573.03 L1016.77 573.89 L1017.29 574.99 L1017.03 576.29 L1016.06 577.69 L1014.57 579.05 L1012.94 580.26 L1011.52 581.21 L1010.6 581.87 L1010.41 582.25 L1011.02 582.4 L1012.36 582.43 L1014.2 582.46 L1016.25 582.63 L1018.17 583.03 L1019.64 583.74 L1020.42 584.76 L1020.42 586.03 L1019.68 587.47 L1018.4 588.94 L1016.85 590.31 L1015.38 591.45 L1014.32 592.27 L1013.9 592.77 L1014.26 592.96 L1015.37 592.95 L1017.07 592.87 L1019.1 592.86 L1021.11 593.06 L1022.8 593.56 L1023.88 594.42 L1024.21 595.6 L1023.79 597.03 L1022.75 598.58 L1021.35 600.08 L1019.89 601.4 L1018.72 602.41 L1018.11 603.05 L1018.22 603.34 L1019.09 603.34 L1020.62 603.18 L1022.57 603.01 L1024.61 603.03 L1026.2 603.52 L1027.09 604.38 L1027.31 605.52 L1027.01 606.79 L1026.44 608.04 L1025.87 609.15 L1025.55 610.04 L1025.58 610.71 L1025.98 611.23" fill="none" stroke="#cc837d" stroke-width="1.4" stroke-linecap="round" stroke-linejoin="round" opacity="0.95"/>
<path d="M1017.75 548.58 L1018 549.04 L1018.33 549.28 L1018.79 549.29 L1019.39 549.11 L1020.14 548.81 L1020.99 548.51 L1021.89 548.32 L1022.75 548.34 L1023.51 548.64 L1024.1 549.23 L1024.5 550.06 L1024.73 551.05 L1024.81 552.05 L1024.84 552.93 L1024.9 553.56 L1025.08 553.87 L1025.46 553.83 L1026.08 553.49 L1026.91 552.96 L1027.91 552.4 L1028.99 551.97 L1030.04 551.83 L1030.94 552.06 L1031.61 552.71 L1032 553.71 L1032.12 554.94 L1032.03 556.23 L1031.85 557.39 L1031.69 558.24 L1031.69 558.67 L1031.96 558.63 L1032.54 558.19 L1033.44 557.46 L1034.58 556.65 L1035.86 555.97 L1037.11 555.62 L1038.19 555.74 L1038.97 556.38 L1039.39 557.49 L1039.44 558.93 L1039.2 560.49 L1038.79 561.94 L1038.4 563.05 L1038.18 563.65 L1038.28 563.69 L1038.81 563.18 L1039.76 562.3 L1041.03 561.29 L1042.47 560.42 L1043.89 559.92 L1045.11 559.93 L1045.99 560.52 L1046.44 561.64 L1046.48 563.13 L1046.18 564.78 L1045.69 566.33 L1045.19 567.55 L1044.87 568.27 L1044.89 568.42 L1045.32 568.04 L1046.19 567.27 L1047.41 566.32 L1048.85 565.44 L1050.32 564.85 L1051.61 564.75 L1052.59 565.21 L1053.14 566.21 L1053.24 567.62 L1052.97 569.24 L1052.46 570.83 L1051.9 572.14 L1051.48 573.01 L1051.38 573.32 L1051.7 573.1 L1052.47 572.44 L1053.64 571.56 L1055.06 570.68 L1056.56 570.04 L1057.94 569.84 L1059.01 570.17 L1059.65 571.05 L1059.84 572.36 L1059.61 573.94 L1059.09 575.55 L1058.48 576.94 L1057.97 577.94 L1057.75 578.4 L1057.94 578.33 L1058.61 577.81 L1059.78 576.99 L1061.18 576.27 L1062.53 575.89 L1063.65 575.94 L1064.43 576.43 L1064.87 577.24 L1065.03 578.21 L1065.05 579.17 L1065.06 579.97 L1065.19 580.54 L1065.5 580.88" fill="none" stroke="#8f201c" stroke-width="1.45" stroke-linecap="round" stroke-linejoin="round" opacity="1"/>
<path d="M1065.7 580.5 L1071.7 586.5" stroke="#8f201c" stroke-width="1.2" fill="none"/>
<circle cx="1095.9" cy="551.9" r="9.3" fill="url(#glow)"/>
<polygon points="1100.3,552.79 1098.33,553.27 1099.09,555.37 1097.06,554.44 1096.51,557.21 1095.35,554.63 1092.95,557.12 1093.84,553.79 1091.56,553.88 1093.13,552.22 1091.28,550.96 1093.47,550.53 1092.53,548.23 1094.74,549.36 1095.2,545.79 1096.45,549.17 1098.26,547.73 1097.96,550.01 1101.46,549.36 1098.67,551.58" fill="#ee6a22"/>
<polygon points="1098.43,553.28 1097.43,553.52 1097.01,554.24 1096.19,554.11 1095.38,554.66 1094.83,553.86 1093.89,553.8 1093.88,552.86 1093.18,552.25 1093.71,551.49 1093.21,550.43 1094.37,550.28 1094.8,549.58 1095.61,549.69 1096.37,549.42 1096.97,549.94 1098.11,549.82 1097.92,550.94 1098.61,551.55 1098.09,552.31" fill="#ffd52e"/>
<circle cx="1025.5" cy="617.9" r="13.02" fill="url(#glow)"/>
<polygon points="1032.68,619.36 1029.34,620.07 1030.78,623.65 1027.33,621.91 1026.43,625.97 1024.62,622.22 1020.47,626.81 1022.25,620.88 1017.49,621.56 1021.12,618.4 1016.09,615.99 1021.66,615.73 1020.49,612.44 1023.67,613.89 1024.49,609.11 1026.38,613.58 1030.43,609.17 1028.75,614.92 1033.6,614.2 1029.88,617.4" fill="#f0701e"/>
<polygon points="1029.92,620.31 1028.04,620.59 1027.63,622.39 1025.97,621.57 1024.67,622.32 1023.73,621.14 1022.48,620.75 1022.16,619.48 1020.68,618.52 1021.87,617.22 1021.75,615.85 1022.96,615.21 1023.72,614.13 1025.03,614.23 1026.39,613.15 1027.27,614.66 1029.09,614.51 1028.84,616.32 1030.39,617.27 1029.13,618.58" fill="#ffe21a"/>
<circle cx="1074.7" cy="589.5" r="11.16" fill="url(#glow2)"/>
<polygon points="1082.51,591.08 1078.42,591.6 1080.2,595.49 1076.48,593.39 1075.68,598.08 1073.85,593.69 1071.17,595.74 1071.55,592.39 1067.25,592.9 1070.45,589.99 1066.04,587.74 1070.98,587.4 1068.69,582.95 1072.92,585.61 1073.91,582.62 1075.55,585.31 1078.73,582.37 1077.85,586.61 1082.06,586.14 1078.95,589.01" fill="#d41c04" stroke="#a80e00" stroke-width="0.3"/>
<polygon points="1078.37,591.5 1076.99,591.93 1076.65,593.63 1075.13,592.81 1073.92,593.63 1073.1,592.43 1071.7,592.34 1071.68,590.93 1070.19,590.08 1071.42,588.88 1070.94,587.44 1072.41,587.07 1072.98,585.88 1074.27,586.19 1075.44,585.55 1076.3,586.57 1077.73,586.64 1077.72,588.07 1078.47,589.01 1077.98,590.12" fill="#fff200"/>
<path d="M807.8 537 Q847.43 545.28 856.51 584.73 M807.8 537 Q855.58 540.86 872.09 585.87 M856.51 584.73 L846.6 584 L866 604.6 L882 586.6 L872.09 585.87" fill="none" stroke="#a3202e" stroke-width="1.15" stroke-dasharray="3.2 1.8" stroke-linejoin="round"/>
<path d="M962.8 552.3 Q994.78 563.19 998.28 596.78 M962.8 552.3 Q1002.94 558.83 1013.82 598.02 M998.28 596.78 L988.4 596 L1007.9 616.8 L1023.7 598.8 L1013.82 598.02" fill="none" stroke="#a3202e" stroke-width="1.15" stroke-dasharray="3.2 1.8" stroke-linejoin="round"/>
<g transform="translate(712 666.3) scale(1 0.962)">
<rect x="0" y="0" width="422.6" height="33.6" fill="url(#lipU)"/>
<g transform="translate(0 35)"><rect x="0" y="1.4" width="422.6" height="33.6" fill="url(#lipL)"/></g>
<rect x="0" y="33.4" width="422.6" height="3.2" fill="#f4f4f4"/>
</g>
<rect x="729" y="706" width="106.6" height="33.5" fill="#f9c4a0" opacity="0.78" filter="url(#blur2)"/>
<rect x="873" y="706" width="108" height="33.5" fill="#f9c4a0" opacity="0.78" filter="url(#blur2)"/>
<rect x="1010" y="706" width="110" height="31.5" fill="#f9c4a0" opacity="0.78" filter="url(#blur2)"/>
<path d="M730.19 671.26 L730.74 671.88 L731.27 672.34 L731.83 672.55 L732.44 672.48 L733.13 672.16 L733.91 671.66 L734.78 671.1 L735.7 670.61 L736.65 670.32 L737.59 670.32 L738.46 670.67 L739.25 671.34 L739.94 672.24 L740.52 673.22 L741.03 674.13 L741.49 674.8 L741.96 675.1 L742.48 675 L743.1 674.5 L743.83 673.7 L744.68 672.77 L745.63 671.91 L746.65 671.3 L747.67 671.09 L748.64 671.37 L749.53 672.1 L750.28 673.2 L750.91 674.47 L751.41 675.69 L751.84 676.63 L752.23 677.12 L752.66 677.07 L753.17 676.46 L753.81 675.42 L754.59 674.15 L755.52 672.89 L756.55 671.9 L757.64 671.4 L758.71 671.5 L759.71 672.23 L760.59 673.46 L761.31 674.99 L761.87 676.53 L762.3 677.81 L762.64 678.56 L762.98 678.61 L763.38 677.96 L763.91 676.74 L764.59 675.21 L765.44 673.65 L766.43 672.37 L767.52 671.61 L768.64 671.52 L769.72 672.12 L770.7 673.3 L771.53 674.84 L772.2 676.45 L772.72 677.82 L773.12 678.69 L773.46 678.91 L773.81 678.42 L774.24 677.32 L774.8 675.82 L775.52 674.2 L776.41 672.76 L777.43 671.78 L778.53 671.44 L779.65 671.79 L780.72 672.77 L781.67 674.19 L782.47 675.76 L783.1 677.2 L783.58 678.21 L783.96 678.61 L784.29 678.3 L784.64 677.34 L785.09 675.91 L785.68 674.26 L786.45 672.7 L787.38 671.51 L788.44 670.92 L789.57 671.01 L790.7 671.77 L791.76 673.04 L792.69 674.55 L793.45 676.02 L794.03 677.16 L794.46 677.72 L794.8 677.6 L795.12 676.65 L795.54 675.24 L796.12 673.8 L796.86 672.6 L797.73 671.83 L798.68 671.56 L799.64 671.71 L800.57 672.15 L801.42 672.65 L802.17 673.04 L802.86 673.2" fill="none" stroke="#b8403a" stroke-width="1.25" stroke-linecap="round" stroke-linejoin="round" opacity="1"/>
<path d="M713.33 679.55 L713.49 680.16 L713.91 680.61 L714.61 680.92 L715.55 681.14 L716.64 681.36 L717.75 681.67 L718.75 682.14 L719.5 682.82 L719.92 683.73 L719.99 684.83 L719.76 686.04 L719.33 687.27 L718.86 688.4 L718.52 689.32 L718.47 689.96 L718.82 690.31 L719.6 690.4 L720.76 690.32 L722.19 690.2 L723.69 690.18 L725.07 690.4 L726.14 690.94 L726.76 691.84 L726.88 693.07 L726.55 694.53 L725.89 696.06 L725.12 697.5 L724.45 698.67 L724.12 699.46 L724.28 699.8 L725.01 699.74 L726.28 699.37 L727.96 698.87 L729.81 698.44 L731.58 698.3 L733.03 698.58 L733.95 699.38 L734.25 700.66 L733.94 702.34 L733.13 704.19 L732.14 705.95 L731.23 707.41 L730.66 708.38 L730.64 708.8 L731.26 708.69 L732.49 708.17 L734.18 707.44 L736.12 706.75 L738.03 706.33 L739.66 706.38 L740.79 706.98 L741.31 708.15 L741.23 709.76 L740.66 711.63 L739.8 713.5 L738.93 715.14 L738.3 716.33 L738.12 716.95 L738.52 716.98 L739.53 716.52 L741.05 715.74 L742.89 714.9 L744.81 714.26 L746.55 714.03 L747.88 714.36 L748.67 715.31 L748.88 716.78 L748.56 718.61 L747.89 720.56 L747.1 722.36 L746.45 723.76 L746.15 724.6 L746.37 724.81 L747.16 724.45 L748.49 723.68 L750.2 722.73 L752.07 721.91 L753.71 721.7 L754.88 722.12 L755.55 723.06 L755.79 724.35 L755.78 725.72 L755.72 726.96 L755.78 727.91 L756.08 728.5 L756.66 728.81" fill="none" stroke="#cc837d" stroke-width="1.4" stroke-linecap="round" stroke-linejoin="round" opacity="0.95"/>
<path d="M742.69 678.67 L742.79 679.07 L743 679.26 L743.34 679.23 L743.85 679.02 L744.5 678.7 L745.26 678.38 L746.05 678.17 L746.8 678.18 L747.42 678.45 L747.87 679 L748.1 679.79 L748.15 680.72 L748.06 681.65 L747.92 682.46 L747.83 683.02 L747.89 683.27 L748.16 683.17 L748.68 682.8 L749.44 682.25 L750.37 681.68 L751.36 681.25 L752.31 681.1 L753.08 681.32 L753.6 681.93 L753.82 682.87 L753.75 684.04 L753.48 685.24 L753.11 686.31 L752.8 687.07 L752.66 687.43 L752.82 687.33 L753.32 686.85 L754.16 686.1 L755.25 685.29 L756.46 684.62 L757.62 684.27 L758.59 684.37 L759.22 684.98 L759.46 686.03 L759.32 687.4 L758.87 688.86 L758.27 690.2 L757.7 691.21 L757.34 691.72 L757.34 691.68 L757.79 691.12 L758.69 690.22 L759.92 689.22 L761.3 688.36 L762.65 687.86 L763.76 687.87 L764.5 688.43 L764.78 689.49 L764.63 690.91 L764.12 692.45 L763.43 693.88 L762.75 694.98 L762.29 695.6 L762.19 695.67 L762.55 695.24 L763.36 694.44 L764.54 693.48 L765.93 692.61 L767.33 692.03 L768.53 691.93 L769.37 692.36 L769.76 693.31 L769.67 694.64 L769.2 696.15 L768.49 697.61 L767.75 698.81 L767.18 699.56 L766.96 699.78 L767.19 699.48 L767.9 698.79 L769.03 697.9 L770.4 697.02 L771.84 696.39 L773.13 696.18 L774.08 696.49 L774.57 697.32 L774.58 698.56 L774.15 700.03 L773.44 701.51 L772.64 702.78 L771.98 703.64 L771.63 704.01 L771.73 703.86 L772.33 703.28 L773.46 702.45 L774.81 701.72 L776.08 701.34 L777.1 701.37 L777.75 701.82 L778.05 702.56 L778.05 703.45 L777.92 704.31 L777.78 705.02 L777.78 705.5 L777.97 705.77" fill="none" stroke="#8f201c" stroke-width="1.45" stroke-linecap="round" stroke-linejoin="round" opacity="1"/>
<path d="M778.2 705.4 L784.2 711.4" stroke="#8f201c" stroke-width="1.2" fill="none"/>
<g fill="#f6b485" opacity="0.92"><circle cx="811.93" cy="670.82" r="4.03"/><circle cx="810.56" cy="674.27" r="4.03"/><circle cx="805.31" cy="674.24" r="4.03"/><circle cx="803.27" cy="670.77" r="4.03"/><circle cx="804.46" cy="666.56" r="4.03"/><circle cx="808.5" cy="665.24" r="4.03"/><circle cx="811.75" cy="667.9" r="4.03"/><circle cx="807.7" cy="670" r="5.64"/></g>
<polygon points="810.38,671.47 809.34,671.74 809.01,672.76 808.01,672.37 807.03,673.58 806.56,672.09 805.47,672.11 805.54,671.02 804.16,670.46 805.35,669.56 804.6,668.31 806.06,668.26 806.43,667.33 807.39,667.63 808.38,666.36 808.84,667.91 809.83,667.99 809.86,668.98 811.45,669.52 810.05,670.44" fill="#ffd83a"/>
<g fill="#f6b485" opacity="0.92"><circle cx="760.97" cy="736.95" r="5.2"/><circle cx="758.83" cy="740.07" r="5.2"/><circle cx="752.51" cy="740.49" r="5.2"/><circle cx="750.66" cy="735.31" r="5.2"/><circle cx="751.85" cy="732.08" r="5.2"/><circle cx="755.31" cy="729.35" r="5.2"/><circle cx="759.49" cy="731.04" r="5.2"/><circle cx="756" cy="735.3" r="7.28"/></g>
<polygon points="760.03,737.5 758.11,737.54 757.91,739.33 756.39,738.35 755.26,739.26 754.52,738 752.71,738.4 753.22,736.62 751.23,735.92 752.97,734.73 752.71,733.5 753.89,733.06 753.94,730.96 755.61,732.25 756.86,730.72 757.48,732.6 759.05,732.42 758.78,733.98 759.91,734.8 759.03,735.87" fill="#ffd83a"/>
<circle cx="787.2" cy="714.4" r="10.85" fill="url(#glow2)"/>
<polygon points="793.41,715.66 790.82,716.44 792.66,720.35 788.93,718.18 787.95,720.97 786.37,718.48 783.53,720.9 784.14,717.21 779.91,717.73 783.07,714.87 779.03,712.74 783.58,712.36 782.17,708.92 785.47,710.62 786.34,706.89 788.03,710.32 790.29,708.93 790.26,711.59 793.91,711.33 791.33,713.93" fill="#d41c04" stroke="#a80e00" stroke-width="0.3"/>
<polygon points="790.67,716.3 789.43,716.76 789.06,718.33 787.62,717.62 786.44,718.43 785.64,717.25 784.1,717.33 784.26,715.79 783.23,714.91 784.01,713.8 783.87,712.58 784.97,712.04 785.34,710.47 786.78,711.18 788,710.15 788.76,711.55 790.08,711.68 790.14,713.01 790.9,713.92 790.39,715" fill="#fff200"/>
<path d="M875.69 672.55 L876.24 673.17 L876.77 673.62 L877.33 673.83 L877.93 673.76 L878.61 673.43 L879.38 672.92 L880.23 672.35 L881.14 671.85 L882.08 671.55 L883.01 671.55 L883.89 671.89 L884.67 672.55 L885.36 673.44 L885.94 674.42 L886.45 675.32 L886.91 675.98 L887.37 676.29 L887.89 676.18 L888.49 675.67 L889.21 674.87 L890.05 673.93 L890.99 673.06 L891.99 672.44 L893 672.22 L893.97 672.49 L894.85 673.22 L895.61 674.31 L896.24 675.57 L896.75 676.78 L897.17 677.72 L897.56 678.21 L897.98 678.15 L898.48 677.54 L899.1 676.5 L899.87 675.21 L900.78 673.95 L901.8 672.95 L902.87 672.44 L903.94 672.53 L904.94 673.25 L905.82 674.48 L906.54 676 L907.1 677.54 L907.54 678.81 L907.88 679.56 L908.21 679.61 L908.6 678.95 L909.11 677.73 L909.78 676.19 L910.61 674.63 L911.58 673.34 L912.66 672.57 L913.77 672.47 L914.85 673.06 L915.83 674.24 L916.67 675.77 L917.34 677.37 L917.86 678.73 L918.26 679.61 L918.59 679.82 L918.93 679.33 L919.35 678.23 L919.89 676.72 L920.59 675.1 L921.46 673.65 L922.46 672.66 L923.55 672.31 L924.67 672.65 L925.74 673.62 L926.7 675.03 L927.5 676.6 L928.14 678.04 L928.62 679.05 L928.99 679.44 L929.31 679.13 L929.65 678.17 L930.08 676.73 L930.65 675.07 L931.4 673.51 L932.31 672.32 L933.36 671.71 L934.48 671.8 L935.61 672.55 L936.68 673.81 L937.61 675.32 L938.37 676.78 L938.96 677.91 L939.39 678.47 L939.71 678.35 L940.02 677.4 L940.42 675.99 L940.98 674.54 L941.71 673.34 L942.56 672.56 L943.5 672.28 L944.46 672.43 L945.38 672.86 L946.23 673.36 L946.98 673.75 L947.66 673.89" fill="none" stroke="#b8403a" stroke-width="1.25" stroke-linecap="round" stroke-linejoin="round" opacity="1"/>
<path d="M858.83 680.85 L859 681.47 L859.43 681.93 L860.14 682.24 L861.08 682.47 L862.18 682.7 L863.29 683.02 L864.29 683.49 L865.05 684.19 L865.48 685.1 L865.56 686.21 L865.33 687.43 L864.91 688.67 L864.45 689.8 L864.12 690.74 L864.08 691.39 L864.44 691.75 L865.22 691.85 L866.39 691.77 L867.82 691.66 L869.33 691.64 L870.72 691.86 L871.79 692.41 L872.42 693.32 L872.55 694.56 L872.23 696.03 L871.58 697.57 L870.82 699.02 L870.16 700.2 L869.83 700.99 L870 701.35 L870.74 701.29 L872.02 700.92 L873.7 700.43 L875.56 700.01 L877.34 699.87 L878.79 700.16 L879.72 700.96 L880.03 702.25 L879.72 703.93 L878.93 705.8 L877.95 707.57 L877.05 709.04 L876.49 710.02 L876.48 710.45 L877.1 710.34 L878.34 709.82 L880.04 709.1 L881.98 708.42 L883.9 708 L885.53 708.05 L886.67 708.66 L887.2 709.83 L887.13 711.45 L886.57 713.33 L885.73 715.22 L884.87 716.86 L884.24 718.06 L884.07 718.69 L884.48 718.73 L885.5 718.27 L887.02 717.5 L888.87 716.66 L890.8 716.02 L892.54 715.79 L893.89 716.13 L894.69 717.08 L894.9 718.56 L894.59 720.4 L893.94 722.36 L893.16 724.16 L892.52 725.57 L892.23 726.42 L892.45 726.64 L893.26 726.29 L894.59 725.52 L896.3 724.57 L898.18 723.75 L899.83 723.55 L901.01 723.97 L901.69 724.93 L901.94 726.22 L901.94 727.6 L901.89 728.84 L901.96 729.79 L902.28 730.4 L902.86 730.72" fill="none" stroke="#cc837d" stroke-width="1.4" stroke-linecap="round" stroke-linejoin="round" opacity="0.95"/>
<path d="M888.18 679.96 L888.29 680.37 L888.49 680.56 L888.83 680.53 L889.34 680.32 L889.99 680 L890.75 679.68 L891.54 679.48 L892.28 679.48 L892.91 679.76 L893.35 680.31 L893.58 681.1 L893.63 682.02 L893.54 682.96 L893.39 683.76 L893.3 684.32 L893.35 684.57 L893.62 684.47 L894.15 684.1 L894.9 683.56 L895.83 682.99 L896.83 682.56 L897.77 682.41 L898.54 682.63 L899.06 683.24 L899.27 684.18 L899.2 685.34 L898.92 686.55 L898.55 687.61 L898.23 688.38 L898.1 688.73 L898.25 688.63 L898.76 688.15 L899.59 687.41 L900.68 686.59 L901.89 685.92 L903.06 685.57 L904.02 685.68 L904.65 686.29 L904.89 687.35 L904.74 688.71 L904.29 690.17 L903.68 691.51 L903.11 692.51 L902.74 693.02 L902.74 692.98 L903.2 692.42 L904.1 691.52 L905.32 690.52 L906.71 689.67 L908.05 689.17 L909.17 689.18 L909.9 689.74 L910.18 690.81 L910.02 692.22 L909.51 693.76 L908.81 695.19 L908.13 696.29 L907.66 696.9 L907.56 696.97 L907.92 696.54 L908.74 695.74 L909.92 694.78 L911.31 693.91 L912.7 693.34 L913.91 693.24 L914.75 693.67 L915.13 694.62 L915.04 695.95 L914.56 697.46 L913.85 698.92 L913.1 700.11 L912.53 700.86 L912.3 701.07 L912.54 700.78 L913.25 700.09 L914.37 699.2 L915.75 698.32 L917.19 697.7 L918.48 697.49 L919.43 697.8 L919.92 698.63 L919.92 699.87 L919.49 701.34 L918.77 702.82 L917.97 704.08 L917.3 704.94 L916.95 705.3 L917.05 705.15 L917.65 704.58 L918.78 703.75 L920.13 703.03 L921.4 702.64 L922.42 702.68 L923.07 703.12 L923.36 703.87 L923.36 704.75 L923.22 705.61 L923.09 706.32 L923.08 706.8 L923.27 707.07" fill="none" stroke="#8f201c" stroke-width="1.45" stroke-linecap="round" stroke-linejoin="round" opacity="1"/>
<path d="M923.5 706.7 L929.5 712.7" stroke="#8f201c" stroke-width="1.2" fill="none"/>
<g fill="#f6b485" opacity="0.92"><circle cx="957.1" cy="671.26" r="4.03"/><circle cx="955.3" cy="674.87" r="4.03"/><circle cx="950.93" cy="675.13" r="4.03"/><circle cx="947.99" cy="670.64" r="4.03"/><circle cx="949.57" cy="666.75" r="4.03"/><circle cx="952.74" cy="665.92" r="4.03"/><circle cx="956.17" cy="668.16" r="4.03"/><circle cx="952.5" cy="670.7" r="5.64"/></g>
<polygon points="955.94,672.58 954.14,672.44 953.92,673.69 952.81,673.07 951.78,674.54 951.36,672.79 949.76,673.29 950.34,671.72 949.6,671.07 950.15,670.26 949.72,669.18 950.86,668.96 951.05,667.64 952.19,668.33 953.19,667.03 953.64,668.61 954.74,668.59 954.66,669.68 956,670.25 954.85,671.14" fill="#ffd83a"/>
<g fill="#f6b485" opacity="0.92"><circle cx="906.87" cy="739.68" r="5.2"/><circle cx="904.02" cy="742.87" r="5.2"/><circle cx="898.46" cy="741.68" r="5.2"/><circle cx="896.75" cy="737.14" r="5.2"/><circle cx="898.78" cy="732.46" r="5.2"/><circle cx="901.44" cy="731.51" r="5.2"/><circle cx="906.59" cy="734.31" r="5.2"/><circle cx="902.2" cy="737.2" r="7.28"/></g>
<polygon points="905.93,739.24 904.31,739.44 903.81,740.59 902.59,740.25 901.49,740.97 900.72,739.9 899.32,739.92 899.42,738.52 898.19,737.72 899.17,736.63 898.6,735.23 900.09,734.96 900.16,732.89 901.81,734.15 902.99,732.98 903.68,734.5 905.74,733.86 904.98,735.88 907.09,736.57 905.23,737.77" fill="#ffd83a"/>
<circle cx="932.5" cy="715.7" r="10.85" fill="url(#glow2)"/>
<polygon points="940.21,717.26 936.12,717.74 938.31,722.03 934.23,719.48 933.35,723.1 931.67,719.78 928.51,722.77 929.44,718.51 924.57,719.32 928.37,716.17 925.04,714.19 928.88,713.66 926.97,709.67 930.77,711.92 931.57,707.59 933.33,711.62 936.68,708.29 935.56,712.89 938.26,713.07 936.63,715.23" fill="#d41c04" stroke="#a80e00" stroke-width="0.3"/>
<polygon points="935.83,717.52 934.73,718.06 934.41,719.73 932.92,718.92 931.71,719.89 930.94,718.55 929.69,718.35 929.56,717.09 928.28,716.24 929.31,715.1 929.17,713.88 930.27,713.34 930.81,712.13 932.08,712.48 933.24,711.76 934.06,712.85 935.29,713.06 935.44,714.31 936.24,715.22 935.69,716.3" fill="#fff200"/>
<path d="M1012.98 668.86 L1013.52 669.49 L1014.04 669.95 L1014.58 670.16 L1015.19 670.1 L1015.87 669.78 L1016.65 669.29 L1017.51 668.73 L1018.43 668.25 L1019.37 667.97 L1020.29 667.98 L1021.16 668.34 L1021.93 669.01 L1022.6 669.91 L1023.16 670.9 L1023.65 671.81 L1024.09 672.48 L1024.55 672.79 L1025.07 672.69 L1025.68 672.2 L1026.41 671.41 L1027.26 670.49 L1028.21 669.63 L1029.22 669.03 L1030.23 668.83 L1031.19 669.11 L1032.06 669.86 L1032.8 670.96 L1033.4 672.23 L1033.88 673.46 L1034.29 674.41 L1034.67 674.9 L1035.08 674.85 L1035.59 674.25 L1036.23 673.21 L1037.02 671.94 L1037.95 670.69 L1038.98 669.71 L1040.06 669.22 L1041.12 669.34 L1042.11 670.07 L1042.96 671.31 L1043.65 672.85 L1044.19 674.4 L1044.59 675.67 L1044.92 676.43 L1045.25 676.49 L1045.65 675.83 L1046.18 674.63 L1046.87 673.1 L1047.72 671.55 L1048.72 670.28 L1049.81 669.53 L1050.92 669.45 L1051.98 670.06 L1052.94 671.25 L1053.75 672.8 L1054.39 674.41 L1054.88 675.79 L1055.26 676.67 L1055.59 676.88 L1055.94 676.4 L1056.37 675.31 L1056.94 673.81 L1057.66 672.2 L1058.55 670.77 L1059.57 669.8 L1060.67 669.46 L1061.78 669.83 L1062.82 670.82 L1063.75 672.25 L1064.53 673.83 L1065.13 675.28 L1065.59 676.3 L1065.95 676.69 L1066.28 676.39 L1066.63 675.44 L1067.09 674 L1067.69 672.36 L1068.46 670.81 L1069.39 669.63 L1070.44 669.05 L1071.57 669.16 L1072.68 669.93 L1073.72 671.21 L1074.62 672.73 L1075.36 674.21 L1075.92 675.35 L1076.33 675.92 L1076.66 675.8 L1076.98 674.86 L1077.41 673.46 L1077.99 672.02 L1078.73 670.83 L1079.6 670.07 L1080.54 669.81 L1081.49 669.98 L1082.41 670.42 L1083.24 670.94 L1083.98 671.34 L1084.66 671.5" fill="none" stroke="#b8403a" stroke-width="1.25" stroke-linecap="round" stroke-linejoin="round" opacity="1"/>
<path d="M996.12 677.13 L996.27 677.75 L996.69 678.21 L997.39 678.53 L998.33 678.78 L999.41 679.02 L1000.52 679.36 L1001.51 679.85 L1002.25 680.55 L1002.66 681.47 L1002.72 682.57 L1002.47 683.79 L1002.02 685.01 L1001.54 686.14 L1001.19 687.06 L1001.13 687.71 L1001.48 688.07 L1002.26 688.18 L1003.43 688.12 L1004.85 688.03 L1006.36 688.04 L1007.74 688.28 L1008.8 688.84 L1009.41 689.76 L1009.52 691 L1009.16 692.46 L1008.49 693.98 L1007.69 695.41 L1007.01 696.58 L1006.67 697.36 L1006.83 697.72 L1007.57 697.67 L1008.85 697.32 L1010.53 696.86 L1012.39 696.47 L1014.17 696.35 L1015.62 696.67 L1016.53 697.48 L1016.81 698.78 L1016.47 700.45 L1015.64 702.29 L1014.62 704.05 L1013.69 705.49 L1013.11 706.46 L1013.09 706.89 L1013.71 706.79 L1014.95 706.29 L1016.66 705.6 L1018.62 704.94 L1020.54 704.56 L1022.17 704.64 L1023.29 705.27 L1023.8 706.44 L1023.69 708.06 L1023.1 709.92 L1022.22 711.79 L1021.32 713.42 L1020.67 714.6 L1020.48 715.22 L1020.89 715.26 L1021.91 714.82 L1023.45 714.07 L1025.31 713.27 L1027.24 712.66 L1028.99 712.46 L1030.32 712.83 L1031.1 713.79 L1031.28 715.27 L1030.94 717.1 L1030.24 719.04 L1029.43 720.83 L1028.76 722.22 L1028.45 723.06 L1028.67 723.28 L1029.47 722.94 L1030.81 722.19 L1032.54 721.28 L1034.44 720.49 L1036.08 720.31 L1037.25 720.75 L1037.91 721.72 L1038.13 723.01 L1038.1 724.39 L1038.02 725.63 L1038.08 726.58 L1038.38 727.18 L1038.95 727.51" fill="none" stroke="#cc837d" stroke-width="1.4" stroke-linecap="round" stroke-linejoin="round" opacity="0.95"/>
<path d="M1025.46 676.26 L1025.56 676.67 L1025.76 676.86 L1026.1 676.84 L1026.61 676.64 L1027.27 676.34 L1028.04 676.04 L1028.84 675.85 L1029.58 675.87 L1030.2 676.16 L1030.63 676.73 L1030.85 677.52 L1030.88 678.45 L1030.76 679.38 L1030.6 680.19 L1030.5 680.75 L1030.55 680.99 L1030.82 680.91 L1031.36 680.55 L1032.13 680.02 L1033.07 679.47 L1034.07 679.07 L1035.02 678.94 L1035.79 679.18 L1036.29 679.8 L1036.49 680.75 L1036.39 681.91 L1036.09 683.11 L1035.7 684.17 L1035.36 684.92 L1035.22 685.27 L1035.38 685.18 L1035.89 684.71 L1036.75 683.99 L1037.86 683.2 L1039.08 682.56 L1040.26 682.24 L1041.22 682.37 L1041.84 682.99 L1042.05 684.06 L1041.87 685.41 L1041.39 686.87 L1040.76 688.19 L1040.16 689.18 L1039.78 689.68 L1039.78 689.64 L1040.26 689.1 L1041.18 688.22 L1042.43 687.25 L1043.83 686.43 L1045.19 685.97 L1046.31 686 L1047.03 686.58 L1047.29 687.65 L1047.09 689.06 L1046.55 690.59 L1045.82 692 L1045.11 693.09 L1044.63 693.69 L1044.53 693.76 L1044.9 693.34 L1045.74 692.56 L1046.94 691.63 L1048.35 690.79 L1049.76 690.25 L1050.97 690.18 L1051.8 690.63 L1052.16 691.59 L1052.04 692.92 L1051.53 694.42 L1050.79 695.87 L1050.01 697.04 L1049.43 697.77 L1049.2 697.99 L1049.44 697.7 L1050.17 697.03 L1051.32 696.16 L1052.72 695.32 L1054.17 694.73 L1055.46 694.55 L1056.4 694.89 L1056.88 695.73 L1056.85 696.97 L1056.39 698.43 L1055.64 699.89 L1054.81 701.13 L1054.12 701.98 L1053.76 702.34 L1053.87 702.19 L1054.49 701.63 L1055.63 700.83 L1057 700.14 L1058.29 699.78 L1059.3 699.85 L1059.94 700.31 L1060.22 701.06 L1060.2 701.94 L1060.04 702.8 L1059.89 703.5 L1059.88 703.99 L1060.06 704.26" fill="none" stroke="#8f201c" stroke-width="1.45" stroke-linecap="round" stroke-linejoin="round" opacity="1"/>
<path d="M1060.3 703.9 L1066.3 709.9" stroke="#8f201c" stroke-width="1.2" fill="none"/>
<g fill="#f6b485" opacity="0.92"><circle cx="1094.06" cy="669.45" r="4.03"/><circle cx="1090.67" cy="672.56" r="4.03"/><circle cx="1087.67" cy="672.81" r="4.03"/><circle cx="1085.13" cy="669.21" r="4.03"/><circle cx="1085.98" cy="665.61" r="4.03"/><circle cx="1088.83" cy="663.55" r="4.03"/><circle cx="1093.88" cy="666.18" r="4.03"/><circle cx="1089.5" cy="668.3" r="5.64"/></g>
<polygon points="1092.61,670 1091.14,670.04 1090.89,671.23 1089.81,670.67 1088.88,671.58 1088.36,670.39 1087.29,670.39 1087.34,669.32 1085.89,668.77 1087.15,667.86 1086.69,666.76 1087.86,666.56 1088.13,665.41 1089.19,665.93 1090.22,664.47 1090.64,666.21 1091.86,666.07 1091.66,667.28 1093.37,667.8 1091.85,668.74" fill="#ffd83a"/>
<g fill="#f6b485" opacity="0.92"><circle cx="1043.19" cy="736.45" r="5.2"/><circle cx="1039.34" cy="739.47" r="5.2"/><circle cx="1035.39" cy="739.92" r="5.2"/><circle cx="1032.53" cy="735.6" r="5.2"/><circle cx="1032.52" cy="730.62" r="5.2"/><circle cx="1039.75" cy="728.73" r="5.2"/><circle cx="1042.28" cy="729.59" r="5.2"/><circle cx="1038.3" cy="734" r="7.28"/></g>
<polygon points="1042.18,736.12 1040.41,736.24 1040.34,738.3 1038.69,737.05 1037.53,738.12 1036.82,736.7 1035.01,737.1 1035.52,735.32 1034.38,734.51 1035.27,733.43 1034.77,732.07 1036.19,731.76 1036.65,730.53 1037.91,730.95 1039.12,729.62 1039.78,731.3 1041.56,730.92 1041.08,732.68 1042.82,733.42 1041.33,734.57" fill="#ffd83a"/>
<circle cx="1069.3" cy="712.9" r="10.85" fill="url(#glow2)"/>
<polygon points="1076.57,714.37 1072.92,714.94 1074.04,718.07 1071.03,716.68 1070.28,721.49 1068.47,716.98 1065.6,719.45 1066.24,715.71 1063.42,715.59 1065.17,713.37 1061.24,711.27 1065.68,710.86 1064.95,708.16 1067.57,709.12 1068.53,706.17 1070.13,708.82 1072.46,707.3 1072.36,710.09 1076.49,709.62 1073.43,712.43" fill="#d41c04" stroke="#a80e00" stroke-width="0.3"/>
<polygon points="1073.11,714.98 1071.53,715.26 1071.08,716.65 1069.72,716.12 1068.59,716.67 1067.74,715.75 1066.14,715.88 1066.36,714.29 1064.97,713.46 1066.11,712.3 1065.86,711.02 1067.07,710.54 1067.64,709.4 1068.88,709.68 1070.08,708.77 1070.86,710.05 1072.53,709.85 1072.24,711.51 1073.66,712.34 1072.49,713.5" fill="#fff200"/>
<path d="M674.8 676.3 Q714.73 684.85 723.68 724.69 M674.8 676.3 Q722.69 680.19 739.22 725.31 M723.68 724.69 L713.8 724.3 L733.3 743.8 L749.1 725.7 L739.22 725.31" fill="none" stroke="#a3202e" stroke-width="1.15" stroke-dasharray="3.2 1.8" stroke-linejoin="round"/>
<rect x="716" y="757" width="409.3" height="40.8" fill="none" stroke="#666" stroke-width="1.9" stroke-dasharray="7.9 6.1" stroke-dashoffset="-1"/>
<text x="813" y="786" font-family="'Liberation Serif','DejaVu Serif',serif" font-size="21" text-anchor="start" fill="#000" font-weight="normal" font-style="normal"  textLength="270.5" lengthAdjust="spacing">Ensemble peptides translocation</text>
<path d="M753.9 763 Q769.18 767.68 774.12 782.88 M753.9 763 Q772.53 766.22 780.58 783.32 M774.12 782.88 L770 782.6 L777.7 791.3 L784.7 783.6 L780.58 783.32" fill="none" stroke="#f0b4bc" stroke-width="0.85" stroke-dasharray="none" stroke-linejoin="round"/>
</g>
</svg></body></html>
